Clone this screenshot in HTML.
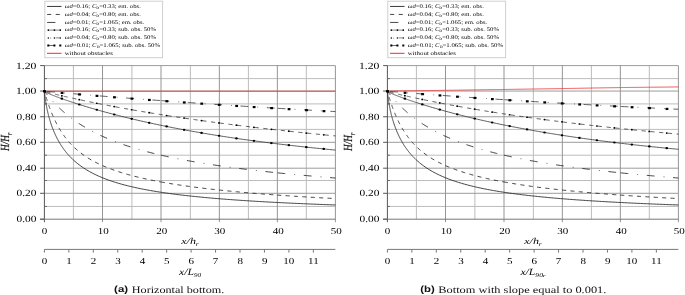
<!DOCTYPE html>
<html><head><meta charset="utf-8"><style>
html,body{margin:0;padding:0;background:#fff;width:685px;height:295px;overflow:hidden}
svg{display:block}
svg{will-change:transform}
text{text-rendering:geometricPrecision}
text.gp{text-rendering:geometricPrecision}
</style></head><body>
<svg width="685" height="295" viewBox="0 0 685 295">
<rect width="685" height="295" fill="#fff"/>
<line x1="44.40" y1="206.45" x2="335.40" y2="206.45" stroke="#bdbdbd" stroke-width="1"/>
<line x1="44.40" y1="180.50" x2="335.40" y2="180.50" stroke="#bdbdbd" stroke-width="1"/>
<line x1="44.40" y1="155.20" x2="335.40" y2="155.20" stroke="#bdbdbd" stroke-width="1"/>
<line x1="44.40" y1="129.40" x2="335.40" y2="129.40" stroke="#bdbdbd" stroke-width="1"/>
<line x1="44.40" y1="103.90" x2="335.40" y2="103.90" stroke="#bdbdbd" stroke-width="1"/>
<line x1="44.40" y1="78.60" x2="335.40" y2="78.60" stroke="#bdbdbd" stroke-width="1"/>
<line x1="73.40" y1="65.60" x2="73.40" y2="219.20" stroke="#bcbcbc" stroke-width="1"/>
<line x1="131.90" y1="65.60" x2="131.90" y2="219.20" stroke="#bcbcbc" stroke-width="1"/>
<line x1="190.35" y1="65.60" x2="190.35" y2="219.20" stroke="#bcbcbc" stroke-width="1"/>
<line x1="248.40" y1="65.60" x2="248.40" y2="219.20" stroke="#bcbcbc" stroke-width="1"/>
<line x1="306.30" y1="65.60" x2="306.30" y2="219.20" stroke="#bcbcbc" stroke-width="1"/>
<line x1="44.40" y1="193.30" x2="335.40" y2="193.30" stroke="#9c9c9c" stroke-width="1"/>
<line x1="44.40" y1="168.20" x2="335.40" y2="168.20" stroke="#9c9c9c" stroke-width="1"/>
<line x1="44.40" y1="142.30" x2="335.40" y2="142.30" stroke="#9c9c9c" stroke-width="1"/>
<line x1="44.40" y1="116.75" x2="335.40" y2="116.75" stroke="#9c9c9c" stroke-width="1"/>
<line x1="44.40" y1="91.05" x2="335.40" y2="91.05" stroke="#9c9c9c" stroke-width="1"/>
<line x1="44.40" y1="65.60" x2="335.40" y2="65.60" stroke="#9c9c9c" stroke-width="1"/>
<line x1="102.50" y1="65.60" x2="102.50" y2="222.20" stroke="#959595" stroke-width="1"/>
<line x1="161.00" y1="65.60" x2="161.00" y2="222.20" stroke="#959595" stroke-width="1"/>
<line x1="219.35" y1="65.60" x2="219.35" y2="222.20" stroke="#959595" stroke-width="1"/>
<line x1="277.35" y1="65.60" x2="277.35" y2="222.20" stroke="#959595" stroke-width="1"/>
<line x1="335.40" y1="65.60" x2="335.40" y2="222.20" stroke="#959595" stroke-width="1"/>
<line x1="44.40" y1="65.60" x2="44.40" y2="222.20" stroke="#555" stroke-width="1"/>
<line x1="40.10" y1="219.20" x2="335.40" y2="219.20" stroke="#777" stroke-width="1"/>
<line x1="40.10" y1="219.20" x2="44.40" y2="219.20" stroke="#555" stroke-width="1"/>
<line x1="44.40" y1="206.45" x2="46.90" y2="206.45" stroke="#666" stroke-width="1"/>
<line x1="40.10" y1="193.30" x2="44.40" y2="193.30" stroke="#555" stroke-width="1"/>
<line x1="44.40" y1="180.50" x2="46.90" y2="180.50" stroke="#666" stroke-width="1"/>
<line x1="40.10" y1="168.20" x2="44.40" y2="168.20" stroke="#555" stroke-width="1"/>
<line x1="44.40" y1="155.20" x2="46.90" y2="155.20" stroke="#666" stroke-width="1"/>
<line x1="40.10" y1="142.30" x2="44.40" y2="142.30" stroke="#555" stroke-width="1"/>
<line x1="44.40" y1="129.40" x2="46.90" y2="129.40" stroke="#666" stroke-width="1"/>
<line x1="40.10" y1="116.75" x2="44.40" y2="116.75" stroke="#555" stroke-width="1"/>
<line x1="44.40" y1="103.90" x2="46.90" y2="103.90" stroke="#666" stroke-width="1"/>
<line x1="40.10" y1="91.05" x2="44.40" y2="91.05" stroke="#555" stroke-width="1"/>
<line x1="44.40" y1="78.60" x2="46.90" y2="78.60" stroke="#666" stroke-width="1"/>
<line x1="40.10" y1="65.60" x2="44.40" y2="65.60" stroke="#555" stroke-width="1"/>
<text transform="translate(16.55,222.15) scale(1.197,1)" style="font-family:'Liberation Serif', serif;font-size:9.50px;" fill="#000">0.00</text>
<text transform="translate(16.55,196.25) scale(1.197,1)" style="font-family:'Liberation Serif', serif;font-size:9.50px;" fill="#000">0.20</text>
<text transform="translate(16.55,171.15) scale(1.197,1)" style="font-family:'Liberation Serif', serif;font-size:9.50px;" fill="#000">0.40</text>
<text transform="translate(16.55,145.25) scale(1.197,1)" style="font-family:'Liberation Serif', serif;font-size:9.50px;" fill="#000">0.60</text>
<text transform="translate(16.55,119.70) scale(1.197,1)" style="font-family:'Liberation Serif', serif;font-size:9.50px;" fill="#000">0.80</text>
<text transform="translate(15.95,94.00) scale(1.233,1)" style="font-family:'Liberation Serif', serif;font-size:9.50px;" fill="#000">1.00</text>
<text transform="translate(15.95,68.55) scale(1.233,1)" style="font-family:'Liberation Serif', serif;font-size:9.50px;" fill="#000">1.20</text>
<text transform="translate(41.74,233.90) scale(1.200,1)" style="font-family:'Liberation Serif', serif;font-size:9.20px;" fill="#000">0</text>
<text transform="translate(97.70,233.90) scale(1.200,1)" style="font-family:'Liberation Serif', serif;font-size:9.20px;" fill="#000">10</text>
<text transform="translate(156.15,233.90) scale(1.200,1)" style="font-family:'Liberation Serif', serif;font-size:9.20px;" fill="#000">20</text>
<text transform="translate(214.32,233.90) scale(1.200,1)" style="font-family:'Liberation Serif', serif;font-size:9.20px;" fill="#000">30</text>
<text transform="translate(272.69,233.90) scale(1.200,1)" style="font-family:'Liberation Serif', serif;font-size:9.20px;" fill="#000">40</text>
<text transform="translate(330.67,233.90) scale(1.200,1)" style="font-family:'Liberation Serif', serif;font-size:9.20px;" fill="#000">50</text>
<line x1="44.40" y1="249.40" x2="335.40" y2="249.40" stroke="#777" stroke-width="1"/>
<line x1="44.40" y1="249.40" x2="44.40" y2="252.60" stroke="#777" stroke-width="1"/>
<text transform="translate(41.74,263.85) scale(1.200,1)" style="font-family:'Liberation Serif', serif;font-size:9.20px;" fill="#000">0</text>
<line x1="68.85" y1="249.40" x2="68.85" y2="252.60" stroke="#777" stroke-width="1"/>
<text transform="translate(66.15,263.85) scale(1.200,1)" style="font-family:'Liberation Serif', serif;font-size:9.20px;" fill="#000">1</text>
<line x1="93.30" y1="249.40" x2="93.30" y2="252.60" stroke="#777" stroke-width="1"/>
<text transform="translate(90.82,263.85) scale(1.200,1)" style="font-family:'Liberation Serif', serif;font-size:9.20px;" fill="#000">2</text>
<line x1="117.75" y1="249.40" x2="117.75" y2="252.60" stroke="#777" stroke-width="1"/>
<text transform="translate(115.13,263.85) scale(1.200,1)" style="font-family:'Liberation Serif', serif;font-size:9.20px;" fill="#000">3</text>
<line x1="142.20" y1="249.40" x2="142.20" y2="252.60" stroke="#777" stroke-width="1"/>
<text transform="translate(139.64,263.85) scale(1.200,1)" style="font-family:'Liberation Serif', serif;font-size:9.20px;" fill="#000">4</text>
<line x1="166.65" y1="249.40" x2="166.65" y2="252.60" stroke="#777" stroke-width="1"/>
<text transform="translate(163.98,263.85) scale(1.200,1)" style="font-family:'Liberation Serif', serif;font-size:9.20px;" fill="#000">5</text>
<line x1="191.10" y1="249.40" x2="191.10" y2="252.60" stroke="#777" stroke-width="1"/>
<text transform="translate(188.46,263.85) scale(1.200,1)" style="font-family:'Liberation Serif', serif;font-size:9.20px;" fill="#000">6</text>
<line x1="215.55" y1="249.40" x2="215.55" y2="252.60" stroke="#777" stroke-width="1"/>
<text transform="translate(212.77,263.85) scale(1.200,1)" style="font-family:'Liberation Serif', serif;font-size:9.20px;" fill="#000">7</text>
<line x1="240.00" y1="249.40" x2="240.00" y2="252.60" stroke="#777" stroke-width="1"/>
<text transform="translate(237.44,263.85) scale(1.200,1)" style="font-family:'Liberation Serif', serif;font-size:9.20px;" fill="#000">8</text>
<line x1="264.45" y1="249.40" x2="264.45" y2="252.60" stroke="#777" stroke-width="1"/>
<text transform="translate(261.95,263.85) scale(1.200,1)" style="font-family:'Liberation Serif', serif;font-size:9.20px;" fill="#000">9</text>
<line x1="288.90" y1="249.40" x2="288.90" y2="252.60" stroke="#777" stroke-width="1"/>
<text transform="translate(283.30,263.85) scale(1.200,1)" style="font-family:'Liberation Serif', serif;font-size:9.20px;" fill="#000">10</text>
<line x1="313.35" y1="249.40" x2="313.35" y2="252.60" stroke="#777" stroke-width="1"/>
<text transform="translate(308.09,263.85) scale(1.200,1)" style="font-family:'Liberation Serif', serif;font-size:9.20px;" fill="#000">11</text>
<path d="M44.40,91.20 L335.40,91.20" fill="none" stroke="#e83030" stroke-width="0.85"/>
<path d="M44.40,91.20 L44.46,91.79 L44.52,92.36 L44.57,92.91 L44.63,93.45 L44.69,93.98 L44.75,94.49 L44.81,95.00 L44.87,95.49 L44.92,95.97 L44.98,96.44 L45.04,96.90 L45.10,97.35 L45.16,97.79 L45.21,98.23 L45.27,98.65 L45.33,99.07 L45.39,99.48 L45.45,99.89 L45.51,100.28 L45.56,100.68 L45.62,101.06 L45.68,101.44 L45.74,101.81 L45.80,102.18 L45.85,102.54 L45.91,102.89 L45.97,103.25 L46.03,103.59 L46.09,103.93 L46.15,104.27 L46.20,104.60 L46.26,104.93 L46.32,105.26 L46.38,105.58 L46.44,105.89 L46.50,106.21 L46.55,106.51 L46.61,106.82 L46.67,107.12 L46.73,107.42 L46.79,107.72 L46.84,108.01 L46.90,108.30 L46.96,108.59 L47.02,108.87 L47.08,109.15 L47.14,109.43 L47.19,109.70 L47.25,109.97 L47.31,110.24 L47.37,110.51 L47.43,110.78 L47.48,111.04 L47.54,111.30 L47.60,111.56 L47.66,111.81 L47.72,112.07 L47.78,112.32 L47.83,112.57 L47.89,112.81 L47.95,113.06 L48.01,113.30 L48.07,113.54 L48.12,113.78 L48.18,114.02 L48.24,114.25 L48.30,114.49 L48.36,114.72 L48.42,114.95 L48.47,115.18 L48.53,115.41 L48.59,115.63 L48.65,115.85 L48.71,116.08 L48.77,116.30 L48.82,116.51 L48.88,116.73 L48.94,116.95 L49.00,117.16 L49.06,117.38 L49.11,117.59 L49.17,117.80 L49.23,118.01 L49.29,118.21 L49.35,118.42 L49.41,118.62 L49.46,118.83 L49.52,119.03 L49.58,119.23 L49.64,119.43 L49.70,119.63 L49.75,119.82 L49.81,120.02 L49.87,120.22 L49.93,120.41 L49.99,120.60 L50.05,120.79 L50.10,120.98 L50.16,121.17 L50.22,121.36 L50.51,122.28 L50.80,123.18 L51.09,124.06 L51.38,124.91 L51.67,125.74 L51.97,126.56 L52.26,127.35 L52.55,128.12 L52.84,128.88 L53.13,129.62 L53.42,130.34 L53.71,131.05 L54.00,131.75 L54.29,132.43 L54.59,133.10 L54.88,133.75 L55.17,134.39 L55.46,135.02 L55.75,135.64 L56.04,136.24 L56.33,136.84 L56.62,137.42 L56.91,138.00 L57.20,138.56 L57.50,139.12 L57.79,139.66 L58.08,140.20 L58.37,140.73 L58.66,141.25 L58.95,141.76 L59.24,142.26 L59.53,142.75 L59.82,143.24 L60.11,143.72 L60.41,144.19 L60.70,144.66 L60.99,145.12 L61.28,145.57 L61.57,146.02 L61.86,146.46 L62.15,146.89 L62.44,147.31 L62.73,147.74 L63.02,148.15 L63.32,148.56 L63.61,148.96 L63.90,149.36 L64.19,149.75 L64.48,150.14 L64.77,150.53 L65.06,150.90 L65.35,151.28 L65.64,151.64 L65.93,152.01 L66.23,152.37 L66.52,152.72 L66.81,153.07 L67.10,153.42 L67.39,153.76 L67.68,154.10 L67.97,154.43 L68.26,154.76 L68.55,155.08 L68.84,155.41 L69.14,155.72 L69.43,156.04 L69.72,156.35 L70.01,156.66 L70.30,156.96 L70.59,157.26 L70.88,157.56 L71.17,157.85 L71.46,158.14 L71.75,158.43 L72.05,158.71 L72.34,158.99 L72.63,159.27 L72.92,159.55 L73.21,159.82 L73.50,160.09 L74.95,161.39 L76.41,162.64 L77.87,163.82 L79.32,164.94 L80.78,166.02 L82.23,167.04 L83.69,168.02 L85.14,168.96 L86.59,169.87 L88.05,170.73 L89.50,171.56 L90.96,172.36 L92.41,173.13 L93.87,173.87 L95.33,174.59 L96.78,175.28 L98.23,175.94 L99.69,176.58 L101.15,177.21 L102.60,177.81 L104.06,178.39 L105.51,178.95 L106.97,179.50 L108.42,180.03 L109.88,180.54 L111.33,181.04 L112.78,181.52 L114.24,181.99 L115.69,182.45 L117.15,182.89 L118.60,183.32 L120.06,183.74 L121.52,184.15 L122.97,184.55 L124.43,184.94 L125.88,185.32 L127.34,185.69 L128.79,186.05 L130.25,186.40 L131.70,186.75 L133.16,187.08 L134.61,187.41 L136.06,187.73 L137.52,188.04 L138.97,188.35 L140.43,188.65 L141.88,188.94 L143.34,189.22 L144.80,189.50 L146.25,189.78 L147.71,190.05 L149.16,190.31 L150.62,190.57 L152.07,190.82 L153.53,191.07 L154.98,191.31 L156.44,191.55 L157.89,191.78 L159.34,192.01 L160.80,192.23 L162.25,192.45 L163.71,192.67 L165.16,192.88 L166.62,193.09 L168.08,193.30 L169.53,193.50 L170.99,193.69 L172.44,193.89 L173.90,194.08 L175.35,194.27 L176.81,194.45 L178.26,194.63 L179.72,194.81 L181.17,194.99 L182.62,195.16 L184.08,195.33 L185.54,195.50 L186.99,195.66 L188.45,195.82 L189.90,195.98 L191.36,196.14 L192.81,196.29 L194.27,196.44 L195.72,196.59 L197.18,196.74 L198.63,196.89 L200.09,197.03 L201.54,197.17 L203.00,197.31 L204.45,197.45 L205.91,197.58 L207.36,197.72 L208.82,197.85 L210.27,197.98 L211.73,198.11 L213.18,198.23 L214.64,198.36 L216.09,198.48 L217.55,198.60 L219.00,198.72 L220.46,198.84 L221.91,198.96 L223.37,199.07 L224.82,199.18 L226.28,199.30 L227.73,199.41 L229.19,199.52 L230.64,199.62 L232.10,199.73 L233.55,199.84 L235.01,199.94 L236.46,200.04 L237.92,200.14 L239.37,200.24 L240.83,200.34 L242.28,200.44 L243.74,200.54 L245.19,200.63 L246.65,200.73 L248.10,200.82 L249.56,200.91 L251.01,201.00 L252.47,201.09 L253.92,201.18 L255.38,201.27 L256.83,201.36 L258.29,201.45 L259.74,201.53 L261.19,201.62 L262.65,201.70 L264.11,201.78 L265.56,201.86 L267.01,201.94 L268.47,202.02 L269.93,202.10 L271.38,202.18 L272.83,202.26 L274.29,202.34 L275.75,202.41 L277.20,202.49 L278.66,202.56 L280.11,202.63 L281.56,202.71 L283.02,202.78 L284.48,202.85 L285.93,202.92 L287.38,202.99 L288.84,203.06 L290.30,203.13 L291.75,203.20 L293.20,203.27 L294.66,203.33 L296.12,203.40 L297.57,203.46 L299.02,203.53 L300.48,203.59 L301.94,203.66 L303.39,203.72 L304.84,203.78 L306.30,203.84 L307.75,203.91 L309.21,203.97 L310.66,204.03 L312.12,204.09 L313.57,204.15 L315.03,204.20 L316.49,204.26 L317.94,204.32 L319.39,204.38 L320.85,204.43 L322.31,204.49 L323.76,204.55 L325.21,204.60 L326.67,204.66 L328.12,204.71 L329.58,204.76 L331.03,204.82 L332.49,204.87 L333.94,204.92 L335.40,204.97" fill="none" stroke="#222" stroke-width="0.85"/>
<path d="M44.40,91.20 L44.46,91.41 L44.52,91.62 L44.57,91.84 L44.63,92.05 L44.69,92.26 L44.75,92.46 L44.81,92.67 L44.87,92.88 L44.92,93.09 L44.98,93.29 L45.04,93.50 L45.10,93.70 L45.16,93.91 L45.21,94.11 L45.27,94.31 L45.33,94.51 L45.39,94.72 L45.45,94.92 L45.51,95.12 L45.56,95.32 L45.62,95.51 L45.68,95.71 L45.74,95.91 L45.80,96.11 L45.85,96.30 L45.91,96.50 L45.97,96.69 L46.03,96.88 L46.09,97.08 L46.15,97.27 L46.20,97.46 L46.26,97.65 L46.32,97.84 L46.38,98.03 L46.44,98.22 L46.50,98.41 L46.55,98.60 L46.61,98.79 L46.67,98.98 L46.73,99.16 L46.79,99.35 L46.84,99.53 L46.90,99.72 L46.96,99.90 L47.02,100.08 L47.08,100.27 L47.14,100.45 L47.19,100.63 L47.25,100.81 L47.31,100.99 L47.37,101.17 L47.43,101.35 L47.48,101.53 L47.54,101.71 L47.60,101.88 L47.66,102.06 L47.72,102.24 L47.78,102.41 L47.83,102.59 L47.89,102.76 L47.95,102.94 L48.01,103.11 L48.07,103.28 L48.12,103.45 L48.18,103.63 L48.24,103.80 L48.30,103.97 L48.36,104.14 L48.42,104.31 L48.47,104.48 L48.53,104.64 L48.59,104.81 L48.65,104.98 L48.71,105.15 L48.77,105.31 L48.82,105.48 L48.88,105.64 L48.94,105.81 L49.00,105.97 L49.06,106.14 L49.11,106.30 L49.17,106.46 L49.23,106.62 L49.29,106.79 L49.35,106.95 L49.41,107.11 L49.46,107.27 L49.52,107.43 L49.58,107.59 L49.64,107.75 L49.70,107.90 L49.75,108.06 L49.81,108.22 L49.87,108.37 L49.93,108.53 L49.99,108.69 L50.05,108.84 L50.10,109.00 L50.16,109.15 L50.22,109.30 L50.51,110.07 L50.80,110.82 L51.09,111.55 L51.38,112.28 L51.67,113.00 L51.97,113.70 L52.26,114.40 L52.55,115.09 L52.84,115.76 L53.13,116.43 L53.42,117.08 L53.71,117.73 L54.00,118.36 L54.29,118.99 L54.59,119.61 L54.88,120.22 L55.17,120.82 L55.46,121.41 L55.75,122.00 L56.04,122.58 L56.33,123.14 L56.62,123.71 L56.91,124.26 L57.20,124.80 L57.50,125.34 L57.79,125.87 L58.08,126.40 L58.37,126.92 L58.66,127.43 L58.95,127.93 L59.24,128.43 L59.53,128.92 L59.82,129.40 L60.11,129.88 L60.41,130.35 L60.70,130.82 L60.99,131.28 L61.28,131.73 L61.57,132.18 L61.86,132.62 L62.15,133.06 L62.44,133.49 L62.73,133.92 L63.02,134.34 L63.32,134.76 L63.61,135.17 L63.90,135.58 L64.19,135.98 L64.48,136.38 L64.77,136.77 L65.06,137.16 L65.35,137.54 L65.64,137.92 L65.93,138.30 L66.23,138.67 L66.52,139.03 L66.81,139.40 L67.10,139.75 L67.39,140.11 L67.68,140.46 L67.97,140.80 L68.26,141.15 L68.55,141.48 L68.84,141.82 L69.14,142.15 L69.43,142.48 L69.72,142.80 L70.01,143.12 L70.30,143.44 L70.59,143.76 L70.88,144.07 L71.17,144.37 L71.46,144.68 L71.75,144.98 L72.05,145.28 L72.34,145.57 L72.63,145.86 L72.92,146.15 L73.21,146.44 L73.50,146.72 L74.95,148.10 L76.41,149.41 L77.87,150.66 L79.32,151.85 L80.78,152.99 L82.23,154.08 L83.69,155.13 L85.14,156.13 L86.59,157.09 L88.05,158.02 L89.50,158.91 L90.96,159.76 L92.41,160.59 L93.87,161.39 L95.33,162.16 L96.78,162.90 L98.23,163.62 L99.69,164.31 L101.15,164.99 L102.60,165.64 L104.06,166.27 L105.51,166.88 L106.97,167.48 L108.42,168.06 L109.88,168.62 L111.33,169.17 L112.78,169.70 L114.24,170.22 L115.69,170.73 L117.15,171.22 L118.60,171.70 L120.06,172.17 L121.52,172.62 L122.97,173.07 L124.43,173.50 L125.88,173.93 L127.34,174.35 L128.79,174.75 L130.25,175.15 L131.70,175.54 L133.16,175.92 L134.61,176.30 L136.06,176.66 L137.52,177.02 L138.97,177.37 L140.43,177.72 L141.88,178.06 L143.34,178.39 L144.80,178.71 L146.25,179.03 L147.71,179.35 L149.16,179.65 L150.62,179.96 L152.07,180.25 L153.53,180.54 L154.98,180.83 L156.44,181.11 L157.89,181.39 L159.34,181.66 L160.80,181.93" fill="none" stroke="#222" stroke-width="0.85" stroke-dasharray="4.1 4.3" stroke-dashoffset="2.40"/>
<path d="M160.80,181.93 L160.80,181.93 L162.25,182.19 L163.71,182.45 L165.16,182.71 L166.62,182.96 L168.08,183.21 L169.53,183.45 L170.99,183.69 L172.44,183.93 L173.90,184.16 L175.35,184.39 L176.81,184.62 L178.26,184.84 L179.72,185.06 L181.17,185.28 L182.62,185.49 L184.08,185.70 L185.54,185.91 L186.99,186.11 L188.45,186.32 L189.90,186.52 L191.36,186.71 L192.81,186.91 L194.27,187.10 L195.72,187.29 L197.18,187.48 L198.63,187.66 L200.09,187.84 L201.54,188.02 L203.00,188.20 L204.45,188.37 L205.91,188.55 L207.36,188.72 L208.82,188.89 L210.27,189.05 L211.73,189.22 L213.18,189.38 L214.64,189.54 L216.09,189.70 L217.55,189.86 L219.00,190.02 L220.46,190.17 L221.91,190.32 L223.37,190.47 L224.82,190.62 L226.28,190.77 L227.73,190.91 L229.19,191.06 L230.64,191.20 L232.10,191.34 L233.55,191.48 L235.01,191.62 L236.46,191.76 L237.92,191.89 L239.37,192.02 L240.83,192.16 L242.28,192.29 L243.74,192.42 L245.19,192.54 L246.65,192.67 L248.10,192.80 L249.56,192.92 L251.01,193.04 L252.47,193.17 L253.92,193.29 L255.38,193.41 L256.83,193.52 L258.29,193.64 L259.74,193.76 L261.19,193.87 L262.65,193.99 L264.11,194.10 L265.56,194.21 L267.01,194.32 L268.47,194.43 L269.93,194.54 L271.38,194.65 L272.83,194.75 L274.29,194.86 L275.75,194.96 L277.20,195.07" fill="none" stroke="#222" stroke-width="0.85" stroke-dasharray="4.1 4.3" stroke-dashoffset="0.00"/>
<path d="M277.20,195.07 L277.20,195.07 L278.66,195.17 L280.11,195.27 L281.56,195.37 L283.02,195.47 L284.48,195.57 L285.93,195.67 L287.38,195.77 L288.84,195.86 L290.30,195.96 L291.75,196.06 L293.20,196.15 L294.66,196.24 L296.12,196.34 L297.57,196.43 L299.02,196.52 L300.48,196.61 L301.94,196.70 L303.39,196.79 L304.84,196.87 L306.30,196.96 L307.75,197.05 L309.21,197.13 L310.66,197.22 L312.12,197.30 L313.57,197.39 L315.03,197.47 L316.49,197.55 L317.94,197.64 L319.39,197.72 L320.85,197.80 L322.31,197.88 L323.76,197.96 L325.21,198.03 L326.67,198.11 L328.12,198.19 L329.58,198.27 L331.03,198.34 L332.49,198.42 L333.94,198.49 L335.40,198.57" fill="none" stroke="#222" stroke-width="0.85" stroke-dasharray="4.1 4.3" stroke-dashoffset="0.00"/>
<path d="M44.40,91.20 L44.46,91.28 L44.52,91.35 L44.57,91.43 L44.63,91.51 L44.69,91.58 L44.75,91.66 L44.81,91.74 L44.87,91.81 L44.92,91.89 L44.98,91.97 L45.04,92.04 L45.10,92.12 L45.16,92.19 L45.21,92.27 L45.27,92.35 L45.33,92.42 L45.39,92.50 L45.45,92.57 L45.51,92.65 L45.56,92.72 L45.62,92.80 L45.68,92.87 L45.74,92.95 L45.80,93.02 L45.85,93.10 L45.91,93.17 L45.97,93.25 L46.03,93.32 L46.09,93.39 L46.15,93.47 L46.20,93.54 L46.26,93.62 L46.32,93.69 L46.38,93.76 L46.44,93.84 L46.50,93.91 L46.55,93.98 L46.61,94.06 L46.67,94.13 L46.73,94.20 L46.79,94.28 L46.84,94.35 L46.90,94.42 L46.96,94.50 L47.02,94.57 L47.08,94.64 L47.14,94.71 L47.19,94.79 L47.25,94.86 L47.31,94.93 L47.37,95.00 L47.43,95.07 L47.48,95.15 L47.54,95.22 L47.60,95.29 L47.66,95.36 L47.72,95.43 L47.78,95.50 L47.83,95.57 L47.89,95.65 L47.95,95.72 L48.01,95.79 L48.07,95.86 L48.12,95.93 L48.18,96.00 L48.24,96.07 L48.30,96.14 L48.36,96.21 L48.42,96.28 L48.47,96.35 L48.53,96.42 L48.59,96.49 L48.65,96.56 L48.71,96.63 L48.77,96.70 L48.82,96.77 L48.88,96.84 L48.94,96.91 L49.00,96.98 L49.06,97.05 L49.11,97.12 L49.17,97.19 L49.23,97.26 L49.29,97.32 L49.35,97.39 L49.41,97.46 L49.46,97.53 L49.52,97.60 L49.58,97.67 L49.64,97.74 L49.70,97.80 L49.75,97.87 L49.81,97.94 L49.87,98.01 L49.93,98.08 L49.99,98.14 L50.05,98.21 L50.10,98.28 L50.16,98.35 L50.22,98.41 L50.51,98.75 L50.80,99.08 L51.09,99.42 L51.38,99.75 L51.67,100.07 L51.97,100.40 L52.26,100.72 L52.55,101.04 L52.84,101.36 L53.13,101.68 L53.42,101.99 L53.71,102.30 L54.00,102.62 L54.29,102.92 L54.59,103.23 L54.88,103.54 L55.17,103.84 L55.46,104.14 L55.75,104.44 L56.04,104.74 L56.33,105.03 L56.62,105.33 L56.91,105.62 L57.20,105.91 L57.50,106.20 L57.79,106.48 L58.08,106.77 L58.37,107.05 L58.66,107.33 L58.95,107.61 L59.24,107.89 L59.53,108.17 L59.82,108.44 L60.11,108.72 L60.41,108.99 L60.70,109.26 L60.99,109.53 L61.28,109.79 L61.57,110.06 L61.86,110.32 L62.15,110.58 L62.44,110.84 L62.73,111.10 L63.02,111.36 L63.32,111.62 L63.61,111.87 L63.90,112.12 L64.19,112.37 L64.48,112.62 L64.77,112.87 L65.06,113.12 L65.35,113.37 L65.64,113.61 L65.93,113.85 L66.23,114.10 L66.52,114.34 L66.81,114.58 L67.10,114.81 L67.39,115.05 L67.68,115.28 L67.97,115.52 L68.26,115.75 L68.55,115.98 L68.84,116.21 L69.14,116.44 L69.43,116.67 L69.72,116.89 L70.01,117.12 L70.30,117.34 L70.59,117.57 L70.88,117.79 L71.17,118.01 L71.46,118.23 L71.75,118.44 L72.05,118.66 L72.34,118.88 L72.63,119.09 L72.92,119.30 L73.21,119.52 L73.50,119.73 L74.95,120.76 L76.41,121.78 L77.87,122.76 L79.32,123.72 L80.78,124.66 L82.23,125.57 L83.69,126.47 L85.14,127.34 L86.59,128.19 L88.05,129.02 L89.50,129.83 L90.96,130.62 L92.41,131.40 L93.87,132.16 L95.33,132.90 L96.78,133.62 L98.23,134.33 L99.69,135.03 L101.15,135.71 L102.60,136.38 L104.06,137.03 L105.51,137.67 L106.97,138.29 L108.42,138.91 L109.88,139.51 L111.33,140.10 L112.78,140.68 L114.24,141.25 L115.69,141.81 L117.15,142.35 L118.60,142.89 L120.06,143.42 L121.52,143.93 L122.97,144.44 L124.43,144.94 L125.88,145.43 L127.34,145.92 L128.79,146.39 L130.25,146.86 L131.70,147.31 L133.16,147.77 L134.61,148.21 L136.06,148.64 L137.52,149.07 L138.97,149.50 L140.43,149.91 L141.88,150.32 L143.34,150.72 L144.80,151.12 L146.25,151.51 L147.71,151.90 L149.16,152.27 L150.62,152.65 L152.07,153.02 L153.53,153.38 L154.98,153.74 L156.44,154.09 L157.89,154.44 L159.34,154.78 L160.80,155.12" fill="none" stroke="#222" stroke-width="0.85" stroke-dasharray="7.3 8.6 0.8 8.15" stroke-dashoffset="2.45"/>
<path d="M160.80,155.12 L160.80,155.12 L162.25,155.45 L163.71,155.78 L165.16,156.10 L166.62,156.42 L168.08,156.74 L169.53,157.05 L170.99,157.36 L172.44,157.66 L173.90,157.96 L175.35,158.26 L176.81,158.55 L178.26,158.84 L179.72,159.12 L181.17,159.41 L182.62,159.68 L184.08,159.96 L185.54,160.23 L186.99,160.50 L188.45,160.76 L189.90,161.03 L191.36,161.29 L192.81,161.54 L194.27,161.80 L195.72,162.05 L197.18,162.29 L198.63,162.54 L200.09,162.78 L201.54,163.02 L203.00,163.26 L204.45,163.49 L205.91,163.72 L207.36,163.95 L208.82,164.18 L210.27,164.41 L211.73,164.63 L213.18,164.85 L214.64,165.07 L216.09,165.28 L217.55,165.50 L219.00,165.71 L220.46,165.92 L221.91,166.13 L223.37,166.33 L224.82,166.54 L226.28,166.74 L227.73,166.94 L229.19,167.14 L230.64,167.33 L232.10,167.53 L233.55,167.72 L235.01,167.91 L236.46,168.10 L237.92,168.29 L239.37,168.47 L240.83,168.66 L242.28,168.84 L243.74,169.02 L245.19,169.20 L246.65,169.38 L248.10,169.55 L249.56,169.73 L251.01,169.90 L252.47,170.08 L253.92,170.25 L255.38,170.42 L256.83,170.58 L258.29,170.75 L259.74,170.91 L261.19,171.08 L262.65,171.24 L264.11,171.40 L265.56,171.56 L267.01,171.72 L268.47,171.88 L269.93,172.03 L271.38,172.19 L272.83,172.34 L274.29,172.50 L275.75,172.65 L277.20,172.80" fill="none" stroke="#222" stroke-width="0.85" stroke-dasharray="7.8 9.1 0.8 8.7" stroke-dashoffset="26.10"/>
<path d="M277.20,172.80 L277.20,172.80 L278.66,172.95 L280.11,173.10 L281.56,173.24 L283.02,173.39 L284.48,173.53 L285.93,173.68 L287.38,173.82 L288.84,173.96 L290.30,174.10 L291.75,174.25 L293.20,174.38 L294.66,174.52 L296.12,174.66 L297.57,174.80 L299.02,174.93 L300.48,175.07 L301.94,175.20 L303.39,175.33 L304.84,175.46 L306.30,175.59 L307.75,175.72 L309.21,175.85 L310.66,175.98 L312.12,176.11 L313.57,176.24 L315.03,176.36 L316.49,176.49 L317.94,176.61 L319.39,176.74 L320.85,176.86 L322.31,176.98 L323.76,177.10 L325.21,177.22 L326.67,177.34 L328.12,177.46 L329.58,177.58 L331.03,177.70 L332.49,177.82 L333.94,177.93 L335.40,178.05" fill="none" stroke="#222" stroke-width="0.85" stroke-dasharray="7.8 9.1 0.8 8.7" stroke-dashoffset="26.10"/>
<path d="M44.40,91.20 L44.46,91.25 L44.52,91.29 L44.57,91.34 L44.63,91.38 L44.69,91.42 L44.75,91.46 L44.81,91.51 L44.87,91.55 L44.92,91.58 L44.98,91.62 L45.04,91.66 L45.10,91.70 L45.16,91.74 L45.21,91.77 L45.27,91.81 L45.33,91.85 L45.39,91.88 L45.45,91.92 L45.51,91.95 L45.56,91.99 L45.62,92.02 L45.68,92.05 L45.74,92.09 L45.80,92.12 L45.85,92.15 L45.91,92.19 L45.97,92.22 L46.03,92.25 L46.09,92.28 L46.15,92.31 L46.20,92.35 L46.26,92.38 L46.32,92.41 L46.38,92.44 L46.44,92.47 L46.50,92.50 L46.55,92.53 L46.61,92.56 L46.67,92.59 L46.73,92.62 L46.79,92.65 L46.84,92.68 L46.90,92.71 L46.96,92.74 L47.02,92.77 L47.08,92.79 L47.14,92.82 L47.19,92.85 L47.25,92.88 L47.31,92.91 L47.37,92.94 L47.43,92.97 L47.48,92.99 L47.54,93.02 L47.60,93.05 L47.66,93.08 L47.72,93.10 L47.78,93.13 L47.83,93.16 L47.89,93.19 L47.95,93.21 L48.01,93.24 L48.07,93.27 L48.12,93.30 L48.18,93.32 L48.24,93.35 L48.30,93.38 L48.36,93.40 L48.42,93.43 L48.47,93.46 L48.53,93.48 L48.59,93.51 L48.65,93.53 L48.71,93.56 L48.77,93.59 L48.82,93.61 L48.88,93.64 L48.94,93.66 L49.00,93.69 L49.06,93.72 L49.11,93.74 L49.17,93.77 L49.23,93.79 L49.29,93.82 L49.35,93.85 L49.41,93.87 L49.46,93.90 L49.52,93.92 L49.58,93.95 L49.64,93.97 L49.70,94.00 L49.75,94.02 L49.81,94.05 L49.87,94.07 L49.93,94.10 L49.99,94.12 L50.05,94.15 L50.10,94.17 L50.16,94.20 L50.22,94.22 L50.51,94.35 L50.80,94.47 L51.09,94.59 L51.38,94.71 L51.67,94.83 L51.97,94.95 L52.26,95.07 L52.55,95.18 L52.84,95.30 L53.13,95.42 L53.42,95.53 L53.71,95.65 L54.00,95.76 L54.29,95.87 L54.59,95.99 L54.88,96.10 L55.17,96.21 L55.46,96.32 L55.75,96.44 L56.04,96.55 L56.33,96.66 L56.62,96.77 L56.91,96.88 L57.20,96.98 L57.50,97.09 L57.79,97.20 L58.08,97.31 L58.37,97.42 L58.66,97.52 L58.95,97.63 L59.24,97.74 L59.53,97.84 L59.82,97.95 L60.11,98.06 L60.41,98.16 L60.70,98.27 L60.99,98.37 L61.28,98.48 L61.57,98.58 L61.86,98.68 L62.15,98.79 L62.44,98.89 L62.73,98.99 L63.02,99.10 L63.32,99.20 L63.61,99.30 L63.90,99.40 L64.19,99.51 L64.48,99.61 L64.77,99.71 L65.06,99.81 L65.35,99.91 L65.64,100.01 L65.93,100.11 L66.23,100.21 L66.52,100.31 L66.81,100.41 L67.10,100.51 L67.39,100.61 L67.68,100.71 L67.97,100.81 L68.26,100.91 L68.55,101.01 L68.84,101.10 L69.14,101.20 L69.43,101.30 L69.72,101.40 L70.01,101.49 L70.30,101.59 L70.59,101.69 L70.88,101.79 L71.17,101.88 L71.46,101.98 L71.75,102.08 L72.05,102.17 L72.34,102.27 L72.63,102.36 L72.92,102.46 L73.21,102.55 L73.50,102.65 L74.95,103.12 L76.41,103.59 L77.87,104.05 L79.32,104.51 L80.78,104.97 L82.23,105.42 L83.69,105.87 L85.14,106.31 L86.59,106.75 L88.05,107.19 L89.50,107.62 L90.96,108.05 L92.41,108.48 L93.87,108.90 L95.33,109.32 L96.78,109.74 L98.23,110.15 L99.69,110.56 L101.15,110.97 L102.60,111.37 L104.06,111.77 L105.51,112.17 L106.97,112.56 L108.42,112.95 L109.88,113.34 L111.33,113.72 L112.78,114.11 L114.24,114.48 L115.69,114.86 L117.15,115.23 L118.60,115.60 L120.06,115.97 L121.52,116.34 L122.97,116.70 L124.43,117.06 L125.88,117.42 L127.34,117.77 L128.79,118.12 L130.25,118.47 L131.70,118.82 L133.16,119.16 L134.61,119.51 L136.06,119.85 L137.52,120.18 L138.97,120.52 L140.43,120.85 L141.88,121.18 L143.34,121.51 L144.80,121.83 L146.25,122.16 L147.71,122.48 L149.16,122.79 L150.62,123.11 L152.07,123.42 L153.53,123.74 L154.98,124.04 L156.44,124.35 L157.89,124.66 L159.34,124.96 L160.80,125.26 L162.25,125.56 L163.71,125.86 L165.16,126.15 L166.62,126.44 L168.08,126.73 L169.53,127.02 L170.99,127.31 L172.44,127.59 L173.90,127.88 L175.35,128.16 L176.81,128.44 L178.26,128.71 L179.72,128.99 L181.17,129.26 L182.62,129.53 L184.08,129.80 L185.54,130.07 L186.99,130.33 L188.45,130.60 L189.90,130.86 L191.36,131.12 L192.81,131.38 L194.27,131.64 L195.72,131.89 L197.18,132.15 L198.63,132.40 L200.09,132.65 L201.54,132.90 L203.00,133.14 L204.45,133.39 L205.91,133.63 L207.36,133.87 L208.82,134.11 L210.27,134.35 L211.73,134.59 L213.18,134.82 L214.64,135.06 L216.09,135.29 L217.55,135.52 L219.00,135.75 L220.46,135.98 L221.91,136.21 L223.37,136.43 L224.82,136.65 L226.28,136.88 L227.73,137.10 L229.19,137.31 L230.64,137.53 L232.10,137.75 L233.55,137.96 L235.01,138.18 L236.46,138.39 L237.92,138.60 L239.37,138.81 L240.83,139.02 L242.28,139.22 L243.74,139.43 L245.19,139.63 L246.65,139.83 L248.10,140.04 L249.56,140.24 L251.01,140.43 L252.47,140.63 L253.92,140.83 L255.38,141.02 L256.83,141.22 L258.29,141.41 L259.74,141.60 L261.19,141.79 L262.65,141.98 L264.11,142.17 L265.56,142.35 L267.01,142.54 L268.47,142.72 L269.93,142.91 L271.38,143.09 L272.83,143.27 L274.29,143.45 L275.75,143.63 L277.20,143.80 L278.66,143.98 L280.11,144.15 L281.56,144.33 L283.02,144.50 L284.48,144.67 L285.93,144.84 L287.38,145.01 L288.84,145.18 L290.30,145.35 L291.75,145.52 L293.20,145.68 L294.66,145.85 L296.12,146.01 L297.57,146.17 L299.02,146.33 L300.48,146.49 L301.94,146.65 L303.39,146.81 L304.84,146.97 L306.30,147.13 L307.75,147.28 L309.21,147.44 L310.66,147.59 L312.12,147.74 L313.57,147.89 L315.03,148.05 L316.49,148.20 L317.94,148.34 L319.39,148.49 L320.85,148.64 L322.31,148.79 L323.76,148.93 L325.21,149.08 L326.67,149.22 L328.12,149.36 L329.58,149.50 L331.03,149.65 L332.49,149.79 L333.94,149.93 L335.40,150.06" fill="none" stroke="#333" stroke-width="0.8"/>
<ellipse cx="44.40" cy="91.20" rx="1.32" ry="1.09" fill="#000"/>
<ellipse cx="61.86" cy="98.68" rx="1.32" ry="1.09" fill="#000"/>
<ellipse cx="79.32" cy="104.51" rx="1.32" ry="1.09" fill="#000"/>
<ellipse cx="96.78" cy="109.74" rx="1.32" ry="1.09" fill="#000"/>
<ellipse cx="114.24" cy="114.48" rx="1.32" ry="1.09" fill="#000"/>
<ellipse cx="131.70" cy="118.82" rx="1.32" ry="1.09" fill="#000"/>
<ellipse cx="149.16" cy="122.79" rx="1.32" ry="1.09" fill="#000"/>
<ellipse cx="166.62" cy="126.44" rx="1.32" ry="1.09" fill="#000"/>
<ellipse cx="184.08" cy="129.80" rx="1.32" ry="1.09" fill="#000"/>
<ellipse cx="201.54" cy="132.90" rx="1.32" ry="1.09" fill="#000"/>
<ellipse cx="219.00" cy="135.75" rx="1.32" ry="1.09" fill="#000"/>
<ellipse cx="236.46" cy="138.39" rx="1.32" ry="1.09" fill="#000"/>
<ellipse cx="253.92" cy="140.83" rx="1.32" ry="1.09" fill="#000"/>
<ellipse cx="271.38" cy="143.09" rx="1.32" ry="1.09" fill="#000"/>
<ellipse cx="288.84" cy="145.18" rx="1.32" ry="1.09" fill="#000"/>
<ellipse cx="306.30" cy="147.13" rx="1.32" ry="1.09" fill="#000"/>
<ellipse cx="323.76" cy="148.93" rx="1.32" ry="1.09" fill="#000"/>
<path d="M44.40,91.20 L44.46,91.22 L44.52,91.24 L44.57,91.26 L44.63,91.28 L44.69,91.30 L44.75,91.32 L44.81,91.34 L44.87,91.36 L44.92,91.38 L44.98,91.40 L45.04,91.42 L45.10,91.44 L45.16,91.46 L45.21,91.47 L45.27,91.49 L45.33,91.51 L45.39,91.53 L45.45,91.55 L45.51,91.57 L45.56,91.59 L45.62,91.61 L45.68,91.63 L45.74,91.64 L45.80,91.66 L45.85,91.68 L45.91,91.70 L45.97,91.72 L46.03,91.74 L46.09,91.75 L46.15,91.77 L46.20,91.79 L46.26,91.81 L46.32,91.83 L46.38,91.84 L46.44,91.86 L46.50,91.88 L46.55,91.90 L46.61,91.92 L46.67,91.93 L46.73,91.95 L46.79,91.97 L46.84,91.99 L46.90,92.00 L46.96,92.02 L47.02,92.04 L47.08,92.06 L47.14,92.07 L47.19,92.09 L47.25,92.11 L47.31,92.13 L47.37,92.14 L47.43,92.16 L47.48,92.18 L47.54,92.19 L47.60,92.21 L47.66,92.23 L47.72,92.25 L47.78,92.26 L47.83,92.28 L47.89,92.30 L47.95,92.31 L48.01,92.33 L48.07,92.35 L48.12,92.36 L48.18,92.38 L48.24,92.40 L48.30,92.41 L48.36,92.43 L48.42,92.45 L48.47,92.46 L48.53,92.48 L48.59,92.50 L48.65,92.51 L48.71,92.53 L48.77,92.54 L48.82,92.56 L48.88,92.58 L48.94,92.59 L49.00,92.61 L49.06,92.63 L49.11,92.64 L49.17,92.66 L49.23,92.67 L49.29,92.69 L49.35,92.71 L49.41,92.72 L49.46,92.74 L49.52,92.75 L49.58,92.77 L49.64,92.79 L49.70,92.80 L49.75,92.82 L49.81,92.83 L49.87,92.85 L49.93,92.87 L49.99,92.88 L50.05,92.90 L50.10,92.91 L50.16,92.93 L50.22,92.94 L50.51,93.02 L50.80,93.10 L51.09,93.18 L51.38,93.25 L51.67,93.33 L51.97,93.41 L52.26,93.48 L52.55,93.56 L52.84,93.63 L53.13,93.70 L53.42,93.78 L53.71,93.85 L54.00,93.92 L54.29,94.00 L54.59,94.07 L54.88,94.14 L55.17,94.21 L55.46,94.29 L55.75,94.36 L56.04,94.43 L56.33,94.50 L56.62,94.57 L56.91,94.64 L57.20,94.71 L57.50,94.78 L57.79,94.85 L58.08,94.92 L58.37,94.99 L58.66,95.06 L58.95,95.13 L59.24,95.20 L59.53,95.27 L59.82,95.33 L60.11,95.40 L60.41,95.47 L60.70,95.54 L60.99,95.61 L61.28,95.67 L61.57,95.74 L61.86,95.81 L62.15,95.88 L62.44,95.94 L62.73,96.01 L63.02,96.08 L63.32,96.15 L63.61,96.21 L63.90,96.28 L64.19,96.35 L64.48,96.41 L64.77,96.48 L65.06,96.55 L65.35,96.61 L65.64,96.68 L65.93,96.74 L66.23,96.81 L66.52,96.88 L66.81,96.94 L67.10,97.01 L67.39,97.07 L67.68,97.14 L67.97,97.20 L68.26,97.27 L68.55,97.33 L68.84,97.40 L69.14,97.46 L69.43,97.53 L69.72,97.59 L70.01,97.66 L70.30,97.72 L70.59,97.78 L70.88,97.85 L71.17,97.91 L71.46,97.98 L71.75,98.04 L72.05,98.11 L72.34,98.17 L72.63,98.23 L72.92,98.30 L73.21,98.36 L73.50,98.42 L74.95,98.74 L76.41,99.05 L77.87,99.37 L79.32,99.68 L80.78,99.98 L82.23,100.29 L83.69,100.60 L85.14,100.90 L86.59,101.20 L88.05,101.50 L89.50,101.80 L90.96,102.09 L92.41,102.39 L93.87,102.68 L95.33,102.97 L96.78,103.26 L98.23,103.55 L99.69,103.83 L101.15,104.12 L102.60,104.40 L104.06,104.68 L105.51,104.96 L106.97,105.24 L108.42,105.52 L109.88,105.79 L111.33,106.06 L112.78,106.34 L114.24,106.61 L115.69,106.88 L117.15,107.14 L118.60,107.41 L120.06,107.68 L121.52,107.94 L122.97,108.20 L124.43,108.46 L125.88,108.72 L127.34,108.98 L128.79,109.24 L130.25,109.49 L131.70,109.75 L133.16,110.00 L134.61,110.25 L136.06,110.50 L137.52,110.75 L138.97,111.00 L140.43,111.25 L141.88,111.49 L143.34,111.74 L144.80,111.98 L146.25,112.22 L147.71,112.46 L149.16,112.70 L150.62,112.94 L152.07,113.18 L153.53,113.41 L154.98,113.65 L156.44,113.88 L157.89,114.11 L159.34,114.34 L160.80,114.57 L162.25,114.80 L163.71,115.03 L165.16,115.26 L166.62,115.48 L168.08,115.71 L169.53,115.93 L170.99,116.15 L172.44,116.37 L173.90,116.59 L175.35,116.81 L176.81,117.03 L178.26,117.25 L179.72,117.46 L181.17,117.68 L182.62,117.89 L184.08,118.11 L185.54,118.32 L186.99,118.53 L188.45,118.74 L189.90,118.95 L191.36,119.16 L192.81,119.37 L194.27,119.57 L195.72,119.78 L197.18,119.98 L198.63,120.18 L200.09,120.39 L201.54,120.59 L203.00,120.79 L204.45,120.99 L205.91,121.19 L207.36,121.39 L208.82,121.58 L210.27,121.78 L211.73,121.98 L213.18,122.17 L214.64,122.36 L216.09,122.56 L217.55,122.75 L219.00,122.94 L220.46,123.13 L221.91,123.32 L223.37,123.51 L224.82,123.70 L226.28,123.88 L227.73,124.07 L229.19,124.25 L230.64,124.44 L232.10,124.62 L233.55,124.81 L235.01,124.99 L236.46,125.17 L237.92,125.35 L239.37,125.53 L240.83,125.71 L242.28,125.89 L243.74,126.07 L245.19,126.24 L246.65,126.42 L248.10,126.59 L249.56,126.77 L251.01,126.94 L252.47,127.12 L253.92,127.29 L255.38,127.46 L256.83,127.63 L258.29,127.80 L259.74,127.97 L261.19,128.14 L262.65,128.31 L264.11,128.48 L265.56,128.64 L267.01,128.81 L268.47,128.97 L269.93,129.14 L271.38,129.30 L272.83,129.47 L274.29,129.63 L275.75,129.79 L277.20,129.95 L278.66,130.11 L280.11,130.27 L281.56,130.43 L283.02,130.59 L284.48,130.75 L285.93,130.91 L287.38,131.07 L288.84,131.22 L290.30,131.38 L291.75,131.53 L293.20,131.69 L294.66,131.84 L296.12,132.00 L297.57,132.15 L299.02,132.30 L300.48,132.45 L301.94,132.60 L303.39,132.75 L304.84,132.90 L306.30,133.05 L307.75,133.20 L309.21,133.35 L310.66,133.50 L312.12,133.65 L313.57,133.79 L315.03,133.94 L316.49,134.08 L317.94,134.23 L319.39,134.37 L320.85,134.52 L322.31,134.66 L323.76,134.80 L325.21,134.94 L326.67,135.09 L328.12,135.23 L329.58,135.37 L331.03,135.51 L332.49,135.65 L333.94,135.79 L335.40,135.92" fill="none" stroke="#333" stroke-width="0.8" stroke-dasharray="4.2 4.6" stroke-dashoffset="6.50"/>
<ellipse cx="44.40" cy="91.20" rx="1.03" ry="0.85" fill="#000"/>
<ellipse cx="61.86" cy="95.81" rx="1.03" ry="0.85" fill="#000"/>
<ellipse cx="79.32" cy="99.68" rx="1.03" ry="0.85" fill="#000"/>
<ellipse cx="96.78" cy="103.26" rx="1.03" ry="0.85" fill="#000"/>
<ellipse cx="114.24" cy="106.61" rx="1.03" ry="0.85" fill="#000"/>
<ellipse cx="131.70" cy="109.75" rx="1.03" ry="0.85" fill="#000"/>
<ellipse cx="149.16" cy="112.70" rx="1.03" ry="0.85" fill="#000"/>
<ellipse cx="166.62" cy="115.48" rx="1.03" ry="0.85" fill="#000"/>
<ellipse cx="184.08" cy="118.11" rx="1.03" ry="0.85" fill="#000"/>
<ellipse cx="201.54" cy="120.59" rx="1.03" ry="0.85" fill="#000"/>
<ellipse cx="219.00" cy="122.94" rx="1.03" ry="0.85" fill="#000"/>
<ellipse cx="236.46" cy="125.17" rx="1.03" ry="0.85" fill="#000"/>
<ellipse cx="253.92" cy="127.29" rx="1.03" ry="0.85" fill="#000"/>
<ellipse cx="271.38" cy="129.30" rx="1.03" ry="0.85" fill="#000"/>
<ellipse cx="288.84" cy="131.22" rx="1.03" ry="0.85" fill="#000"/>
<ellipse cx="306.30" cy="133.05" rx="1.03" ry="0.85" fill="#000"/>
<ellipse cx="323.76" cy="134.80" rx="1.03" ry="0.85" fill="#000"/>
<path d="M44.40,91.20 L44.46,91.21 L44.52,91.21 L44.57,91.22 L44.63,91.22 L44.69,91.23 L44.75,91.23 L44.81,91.24 L44.87,91.24 L44.92,91.25 L44.98,91.25 L45.04,91.26 L45.10,91.26 L45.16,91.27 L45.21,91.27 L45.27,91.28 L45.33,91.28 L45.39,91.29 L45.45,91.29 L45.51,91.30 L45.56,91.30 L45.62,91.31 L45.68,91.31 L45.74,91.32 L45.80,91.32 L45.85,91.33 L45.91,91.34 L45.97,91.34 L46.03,91.35 L46.09,91.35 L46.15,91.36 L46.20,91.36 L46.26,91.37 L46.32,91.37 L46.38,91.38 L46.44,91.38 L46.50,91.39 L46.55,91.39 L46.61,91.40 L46.67,91.40 L46.73,91.41 L46.79,91.41 L46.84,91.42 L46.90,91.42 L46.96,91.43 L47.02,91.43 L47.08,91.44 L47.14,91.44 L47.19,91.45 L47.25,91.45 L47.31,91.46 L47.37,91.46 L47.43,91.47 L47.48,91.48 L47.54,91.48 L47.60,91.49 L47.66,91.49 L47.72,91.50 L47.78,91.50 L47.83,91.51 L47.89,91.51 L47.95,91.52 L48.01,91.52 L48.07,91.53 L48.12,91.53 L48.18,91.54 L48.24,91.54 L48.30,91.55 L48.36,91.55 L48.42,91.56 L48.47,91.56 L48.53,91.57 L48.59,91.57 L48.65,91.58 L48.71,91.58 L48.77,91.59 L48.82,91.59 L48.88,91.60 L48.94,91.60 L49.00,91.61 L49.06,91.61 L49.11,91.62 L49.17,91.63 L49.23,91.63 L49.29,91.64 L49.35,91.64 L49.41,91.65 L49.46,91.65 L49.52,91.66 L49.58,91.66 L49.64,91.67 L49.70,91.67 L49.75,91.68 L49.81,91.68 L49.87,91.69 L49.93,91.69 L49.99,91.70 L50.05,91.70 L50.10,91.71 L50.16,91.71 L50.22,91.72 L50.51,91.74 L50.80,91.77 L51.09,91.80 L51.38,91.82 L51.67,91.85 L51.97,91.87 L52.26,91.90 L52.55,91.92 L52.84,91.95 L53.13,91.98 L53.42,92.00 L53.71,92.03 L54.00,92.05 L54.29,92.08 L54.59,92.10 L54.88,92.13 L55.17,92.15 L55.46,92.18 L55.75,92.21 L56.04,92.23 L56.33,92.26 L56.62,92.28 L56.91,92.31 L57.20,92.33 L57.50,92.36 L57.79,92.38 L58.08,92.41 L58.37,92.43 L58.66,92.46 L58.95,92.49 L59.24,92.51 L59.53,92.54 L59.82,92.56 L60.11,92.59 L60.41,92.61 L60.70,92.64 L60.99,92.66 L61.28,92.69 L61.57,92.71 L61.86,92.74 L62.15,92.76 L62.44,92.79 L62.73,92.81 L63.02,92.84 L63.32,92.86 L63.61,92.89 L63.90,92.91 L64.19,92.94 L64.48,92.96 L64.77,92.99 L65.06,93.01 L65.35,93.04 L65.64,93.06 L65.93,93.09 L66.23,93.11 L66.52,93.14 L66.81,93.16 L67.10,93.19 L67.39,93.21 L67.68,93.24 L67.97,93.26 L68.26,93.29 L68.55,93.31 L68.84,93.34 L69.14,93.36 L69.43,93.39 L69.72,93.41 L70.01,93.44 L70.30,93.46 L70.59,93.49 L70.88,93.51 L71.17,93.54 L71.46,93.56 L71.75,93.59 L72.05,93.61 L72.34,93.64 L72.63,93.66 L72.92,93.69 L73.21,93.71 L73.50,93.74 L74.95,93.86 L76.41,93.98 L77.87,94.11 L79.32,94.23 L80.78,94.35 L82.23,94.47 L83.69,94.59 L85.14,94.71 L86.59,94.84 L88.05,94.96 L89.50,95.08 L90.96,95.20 L92.41,95.32 L93.87,95.43 L95.33,95.55 L96.78,95.67 L98.23,95.79 L99.69,95.91 L101.15,96.03 L102.60,96.14 L104.06,96.26 L105.51,96.38 L106.97,96.49 L108.42,96.61 L109.88,96.73 L111.33,96.84 L112.78,96.96 L114.24,97.07 L115.69,97.19 L117.15,97.30 L118.60,97.42 L120.06,97.53 L121.52,97.64 L122.97,97.76 L124.43,97.87 L125.88,97.98 L127.34,98.09 L128.79,98.21 L130.25,98.32 L131.70,98.43 L133.16,98.54 L134.61,98.65 L136.06,98.76 L137.52,98.87 L138.97,98.98 L140.43,99.09 L141.88,99.20 L143.34,99.31 L144.80,99.42 L146.25,99.53 L147.71,99.64 L149.16,99.75 L150.62,99.85 L152.07,99.96 L153.53,100.07 L154.98,100.17 L156.44,100.28 L157.89,100.39 L159.34,100.49 L160.80,100.60" fill="none" stroke="#333" stroke-width="0.8" stroke-dasharray="7.8 9.1 0.8 8.7" stroke-dashoffset="23.60"/>
<path d="M160.80,100.60 L160.80,100.60 L162.25,100.71 L163.71,100.81 L165.16,100.92 L166.62,101.02 L168.08,101.13 L169.53,101.23 L170.99,101.33 L172.44,101.44 L173.90,101.54 L175.35,101.65 L176.81,101.75 L178.26,101.85 L179.72,101.95 L181.17,102.06 L182.62,102.16 L184.08,102.26 L185.54,102.36 L186.99,102.46 L188.45,102.56 L189.90,102.66 L191.36,102.76 L192.81,102.86 L194.27,102.96 L195.72,103.06 L197.18,103.16 L198.63,103.26 L200.09,103.36 L201.54,103.46 L203.00,103.56 L204.45,103.66 L205.91,103.76 L207.36,103.85 L208.82,103.95 L210.27,104.05 L211.73,104.15 L213.18,104.24 L214.64,104.34 L216.09,104.44 L217.55,104.53 L219.00,104.63 L220.46,104.72 L221.91,104.82 L223.37,104.91 L224.82,105.01 L226.28,105.10 L227.73,105.20 L229.19,105.29 L230.64,105.39 L232.10,105.48 L233.55,105.57 L235.01,105.67 L236.46,105.76 L237.92,105.85 L239.37,105.94 L240.83,106.04 L242.28,106.13 L243.74,106.22 L245.19,106.31 L246.65,106.40 L248.10,106.49 L249.56,106.59 L251.01,106.68 L252.47,106.77 L253.92,106.86 L255.38,106.95 L256.83,107.04 L258.29,107.13 L259.74,107.22 L261.19,107.31 L262.65,107.39 L264.11,107.48 L265.56,107.57 L267.01,107.66 L268.47,107.75 L269.93,107.84 L271.38,107.92 L272.83,108.01 L274.29,108.10 L275.75,108.19 L277.20,108.27" fill="none" stroke="#333" stroke-width="0.8" stroke-dasharray="7.8 9.1 0.8 8.7" stroke-dashoffset="25.70"/>
<path d="M277.20,108.27 L277.20,108.27 L278.66,108.36 L280.11,108.45 L281.56,108.53 L283.02,108.62 L284.48,108.70 L285.93,108.79 L287.38,108.87 L288.84,108.96 L290.30,109.05 L291.75,109.13 L293.20,109.21 L294.66,109.30 L296.12,109.38 L297.57,109.47 L299.02,109.55 L300.48,109.63 L301.94,109.72 L303.39,109.80 L304.84,109.88 L306.30,109.97 L307.75,110.05 L309.21,110.13 L310.66,110.21 L312.12,110.30 L313.57,110.38 L315.03,110.46 L316.49,110.54 L317.94,110.62 L319.39,110.70 L320.85,110.78 L322.31,110.86 L323.76,110.94 L325.21,111.02 L326.67,111.10 L328.12,111.18 L329.58,111.26 L331.03,111.34 L332.49,111.42 L333.94,111.50 L335.40,111.58" fill="none" stroke="#333" stroke-width="0.8" stroke-dasharray="7.8 9.1 0.8 8.7" stroke-dashoffset="25.90"/>
<rect x="43.20" y="90.30" width="2.8" height="2.2" fill="#000"/>
<rect x="60.66" y="91.84" width="2.8" height="2.2" fill="#000"/>
<rect x="78.12" y="93.33" width="2.8" height="2.2" fill="#000"/>
<rect x="95.58" y="94.77" width="2.8" height="2.2" fill="#000"/>
<rect x="113.04" y="96.17" width="2.8" height="2.2" fill="#000"/>
<rect x="130.50" y="97.53" width="2.8" height="2.2" fill="#000"/>
<rect x="147.96" y="98.85" width="2.8" height="2.2" fill="#000"/>
<rect x="165.42" y="100.12" width="2.8" height="2.2" fill="#000"/>
<rect x="182.88" y="101.36" width="2.8" height="2.2" fill="#000"/>
<rect x="200.34" y="102.56" width="2.8" height="2.2" fill="#000"/>
<rect x="217.80" y="103.73" width="2.8" height="2.2" fill="#000"/>
<rect x="235.26" y="104.86" width="2.8" height="2.2" fill="#000"/>
<rect x="252.72" y="105.96" width="2.8" height="2.2" fill="#000"/>
<rect x="270.18" y="107.02" width="2.8" height="2.2" fill="#000"/>
<rect x="287.64" y="108.06" width="2.8" height="2.2" fill="#000"/>
<rect x="305.10" y="109.07" width="2.8" height="2.2" fill="#000"/>
<rect x="322.56" y="110.04" width="2.8" height="2.2" fill="#000"/>
<text transform="translate(9.10,151.00) scale(1.33,1) rotate(-90)" style="font-family:'Liberation Serif',serif;font-style:italic;font-size:9.3px;stroke:#000;stroke-width:0.12px" fill="#000">H/H<tspan font-size="5.8px" dy="2.0">r</tspan></text>
<text transform="translate(181.28,243.90) scale(1.354,1)" style="font-family:'Liberation Serif', serif;font-size:8.90px;font-style:italic;" fill="#000">x/h</text>
<text transform="translate(195.38,246.40) scale(1.408,1)" style="font-family:'Liberation Serif', serif;font-size:5.60px;font-style:italic;" fill="#000">r</text>
<text transform="translate(179.07,274.80) scale(1.226,1)" style="font-family:'Liberation Serif', serif;font-size:9.50px;font-style:italic;" fill="#000">x/L</text>
<text transform="translate(194.02,276.70) scale(1.194,1)" style="font-family:'Liberation Serif', serif;font-size:5.90px;font-style:italic;" fill="#000">90</text>
<rect x="44.80" y="1.20" width="117.80" height="56.50" fill="#fff" stroke="#cfcfcf" stroke-width="1"/>
<line x1="47.10" y1="6.45" x2="61.50" y2="6.45" stroke="#222" stroke-width="0.9"/>
<text transform="translate(64.70,7.90) scale(1.200,1)" style="font-family:'Liberation Serif',serif;font-size:5.6px" fill="#000"><tspan font-style="italic">ωd</tspan>=0.16; <tspan font-style="italic">C</tspan><tspan font-size="3.3px" dy="1.0">D</tspan><tspan dy="-1.0">=0.33; em. obs.</tspan></text>
<line x1="47.10" y1="14.45" x2="60.00" y2="14.45" stroke="#333" stroke-width="0.9" stroke-dasharray="4.1 4.5"/>
<text transform="translate(64.70,15.70) scale(1.200,1)" style="font-family:'Liberation Serif',serif;font-size:5.6px" fill="#000"><tspan font-style="italic">ωd</tspan>=0.04; <tspan font-style="italic">C</tspan><tspan font-size="3.3px" dy="1.0">D</tspan><tspan dy="-1.0">=0.80; em. obs.</tspan></text>
<line x1="47.10" y1="22.45" x2="55.40" y2="22.45" stroke="#333" stroke-width="0.9"/>
<text transform="translate(64.70,23.50) scale(1.200,1)" style="font-family:'Liberation Serif',serif;font-size:5.6px" fill="#000"><tspan font-style="italic">ωd</tspan>=0.01; <tspan font-style="italic">C</tspan><tspan font-size="3.3px" dy="1.0">D</tspan><tspan dy="-1.0">=1.065; em. obs.</tspan></text>
<line x1="48.30" y1="30.10" x2="60.30" y2="30.10" stroke="#555" stroke-width="0.7"/>
<circle cx="48.30" cy="30.10" r="0.85" fill="#000"/>
<circle cx="54.40" cy="30.10" r="0.85" fill="#000"/>
<circle cx="60.30" cy="30.10" r="0.85" fill="#000"/>
<text transform="translate(64.70,31.30) scale(1.200,1)" style="font-family:'Liberation Serif',serif;font-size:5.6px" fill="#000"><tspan font-style="italic">ωd</tspan>=0.16; <tspan font-style="italic">C</tspan><tspan font-size="3.3px" dy="1.0">D</tspan><tspan dy="-1.0">=0.33; sub. obs. 50%</tspan></text>
<line x1="55.60" y1="37.90" x2="59.80" y2="37.90" stroke="#555" stroke-width="0.7"/>
<circle cx="48.30" cy="37.90" r="0.75" fill="#000"/>
<circle cx="54.40" cy="37.90" r="0.75" fill="#000"/>
<circle cx="60.30" cy="37.90" r="0.75" fill="#000"/>
<circle cx="50.60" cy="37.90" r="0.5" fill="#666"/>
<text transform="translate(64.70,39.10) scale(1.200,1)" style="font-family:'Liberation Serif',serif;font-size:5.6px" fill="#000"><tspan font-style="italic">ωd</tspan>=0.04; <tspan font-style="italic">C</tspan><tspan font-size="3.3px" dy="1.0">D</tspan><tspan dy="-1.0">=0.80; sub. obs. 50%</tspan></text>
<line x1="48.30" y1="45.50" x2="54.40" y2="45.50" stroke="#444" stroke-width="0.8"/>
<rect x="47.30" y="44.50" width="2" height="2" fill="#000"/>
<rect x="53.40" y="44.50" width="2" height="2" fill="#000"/>
<rect x="59.30" y="44.50" width="2" height="2" fill="#000"/>
<text transform="translate(64.70,46.90) scale(1.210,1)" style="font-family:'Liberation Serif',serif;font-size:5.6px" fill="#000"><tspan font-style="italic">ωd</tspan>=0.01; <tspan font-style="italic">C</tspan><tspan font-size="3.3px" dy="1.0">D</tspan><tspan dy="-1.0">=1.065; sub. obs. 50%</tspan></text>
<line x1="47.00" y1="53.30" x2="61.50" y2="53.30" stroke="#e83030" stroke-width="1"/>
<text transform="translate(64.70,54.70) scale(1.235,1)" style="font-family:'Liberation Serif',serif;font-size:5.6px" fill="#000">without obstacles</text>
<line x1="387.40" y1="206.45" x2="678.40" y2="206.45" stroke="#bdbdbd" stroke-width="1"/>
<line x1="387.40" y1="180.50" x2="678.40" y2="180.50" stroke="#bdbdbd" stroke-width="1"/>
<line x1="387.40" y1="155.20" x2="678.40" y2="155.20" stroke="#bdbdbd" stroke-width="1"/>
<line x1="387.40" y1="129.40" x2="678.40" y2="129.40" stroke="#bdbdbd" stroke-width="1"/>
<line x1="387.40" y1="103.90" x2="678.40" y2="103.90" stroke="#bdbdbd" stroke-width="1"/>
<line x1="387.40" y1="78.60" x2="678.40" y2="78.60" stroke="#bdbdbd" stroke-width="1"/>
<line x1="416.40" y1="65.60" x2="416.40" y2="219.20" stroke="#bcbcbc" stroke-width="1"/>
<line x1="474.90" y1="65.60" x2="474.90" y2="219.20" stroke="#bcbcbc" stroke-width="1"/>
<line x1="533.35" y1="65.60" x2="533.35" y2="219.20" stroke="#bcbcbc" stroke-width="1"/>
<line x1="591.40" y1="65.60" x2="591.40" y2="219.20" stroke="#bcbcbc" stroke-width="1"/>
<line x1="649.30" y1="65.60" x2="649.30" y2="219.20" stroke="#bcbcbc" stroke-width="1"/>
<line x1="387.40" y1="193.30" x2="678.40" y2="193.30" stroke="#9c9c9c" stroke-width="1"/>
<line x1="387.40" y1="168.20" x2="678.40" y2="168.20" stroke="#9c9c9c" stroke-width="1"/>
<line x1="387.40" y1="142.30" x2="678.40" y2="142.30" stroke="#9c9c9c" stroke-width="1"/>
<line x1="387.40" y1="116.75" x2="678.40" y2="116.75" stroke="#9c9c9c" stroke-width="1"/>
<line x1="387.40" y1="91.05" x2="678.40" y2="91.05" stroke="#9c9c9c" stroke-width="1"/>
<line x1="387.40" y1="65.60" x2="678.40" y2="65.60" stroke="#9c9c9c" stroke-width="1"/>
<line x1="445.50" y1="65.60" x2="445.50" y2="222.20" stroke="#959595" stroke-width="1"/>
<line x1="504.00" y1="65.60" x2="504.00" y2="222.20" stroke="#959595" stroke-width="1"/>
<line x1="562.35" y1="65.60" x2="562.35" y2="222.20" stroke="#959595" stroke-width="1"/>
<line x1="620.35" y1="65.60" x2="620.35" y2="222.20" stroke="#959595" stroke-width="1"/>
<line x1="678.40" y1="65.60" x2="678.40" y2="222.20" stroke="#959595" stroke-width="1"/>
<line x1="387.40" y1="65.60" x2="387.40" y2="222.20" stroke="#555" stroke-width="1"/>
<line x1="383.10" y1="219.20" x2="678.40" y2="219.20" stroke="#777" stroke-width="1"/>
<line x1="383.10" y1="219.20" x2="387.40" y2="219.20" stroke="#555" stroke-width="1"/>
<line x1="387.40" y1="206.45" x2="389.90" y2="206.45" stroke="#666" stroke-width="1"/>
<line x1="383.10" y1="193.30" x2="387.40" y2="193.30" stroke="#555" stroke-width="1"/>
<line x1="387.40" y1="180.50" x2="389.90" y2="180.50" stroke="#666" stroke-width="1"/>
<line x1="383.10" y1="168.20" x2="387.40" y2="168.20" stroke="#555" stroke-width="1"/>
<line x1="387.40" y1="155.20" x2="389.90" y2="155.20" stroke="#666" stroke-width="1"/>
<line x1="383.10" y1="142.30" x2="387.40" y2="142.30" stroke="#555" stroke-width="1"/>
<line x1="387.40" y1="129.40" x2="389.90" y2="129.40" stroke="#666" stroke-width="1"/>
<line x1="383.10" y1="116.75" x2="387.40" y2="116.75" stroke="#555" stroke-width="1"/>
<line x1="387.40" y1="103.90" x2="389.90" y2="103.90" stroke="#666" stroke-width="1"/>
<line x1="383.10" y1="91.05" x2="387.40" y2="91.05" stroke="#555" stroke-width="1"/>
<line x1="387.40" y1="78.60" x2="389.90" y2="78.60" stroke="#666" stroke-width="1"/>
<line x1="383.10" y1="65.60" x2="387.40" y2="65.60" stroke="#555" stroke-width="1"/>
<text transform="translate(359.55,222.15) scale(1.197,1)" style="font-family:'Liberation Serif', serif;font-size:9.50px;" fill="#000">0.00</text>
<text transform="translate(359.55,196.25) scale(1.197,1)" style="font-family:'Liberation Serif', serif;font-size:9.50px;" fill="#000">0.20</text>
<text transform="translate(359.55,171.15) scale(1.197,1)" style="font-family:'Liberation Serif', serif;font-size:9.50px;" fill="#000">0.40</text>
<text transform="translate(359.55,145.25) scale(1.197,1)" style="font-family:'Liberation Serif', serif;font-size:9.50px;" fill="#000">0.60</text>
<text transform="translate(359.55,119.70) scale(1.197,1)" style="font-family:'Liberation Serif', serif;font-size:9.50px;" fill="#000">0.80</text>
<text transform="translate(358.95,94.00) scale(1.233,1)" style="font-family:'Liberation Serif', serif;font-size:9.50px;" fill="#000">1.00</text>
<text transform="translate(358.95,68.55) scale(1.233,1)" style="font-family:'Liberation Serif', serif;font-size:9.50px;" fill="#000">1.20</text>
<text transform="translate(384.74,233.90) scale(1.200,1)" style="font-family:'Liberation Serif', serif;font-size:9.20px;" fill="#000">0</text>
<text transform="translate(440.70,233.90) scale(1.200,1)" style="font-family:'Liberation Serif', serif;font-size:9.20px;" fill="#000">10</text>
<text transform="translate(499.15,233.90) scale(1.200,1)" style="font-family:'Liberation Serif', serif;font-size:9.20px;" fill="#000">20</text>
<text transform="translate(557.32,233.90) scale(1.200,1)" style="font-family:'Liberation Serif', serif;font-size:9.20px;" fill="#000">30</text>
<text transform="translate(615.69,233.90) scale(1.200,1)" style="font-family:'Liberation Serif', serif;font-size:9.20px;" fill="#000">40</text>
<text transform="translate(673.67,233.90) scale(1.200,1)" style="font-family:'Liberation Serif', serif;font-size:9.20px;" fill="#000">50</text>
<line x1="387.40" y1="249.40" x2="678.40" y2="249.40" stroke="#777" stroke-width="1"/>
<line x1="387.40" y1="249.40" x2="387.40" y2="252.60" stroke="#777" stroke-width="1"/>
<text transform="translate(384.74,263.85) scale(1.200,1)" style="font-family:'Liberation Serif', serif;font-size:9.20px;" fill="#000">0</text>
<line x1="411.85" y1="249.40" x2="411.85" y2="252.60" stroke="#777" stroke-width="1"/>
<text transform="translate(409.15,263.85) scale(1.200,1)" style="font-family:'Liberation Serif', serif;font-size:9.20px;" fill="#000">1</text>
<line x1="436.30" y1="249.40" x2="436.30" y2="252.60" stroke="#777" stroke-width="1"/>
<text transform="translate(433.82,263.85) scale(1.200,1)" style="font-family:'Liberation Serif', serif;font-size:9.20px;" fill="#000">2</text>
<line x1="460.75" y1="249.40" x2="460.75" y2="252.60" stroke="#777" stroke-width="1"/>
<text transform="translate(458.13,263.85) scale(1.200,1)" style="font-family:'Liberation Serif', serif;font-size:9.20px;" fill="#000">3</text>
<line x1="485.20" y1="249.40" x2="485.20" y2="252.60" stroke="#777" stroke-width="1"/>
<text transform="translate(482.64,263.85) scale(1.200,1)" style="font-family:'Liberation Serif', serif;font-size:9.20px;" fill="#000">4</text>
<line x1="509.65" y1="249.40" x2="509.65" y2="252.60" stroke="#777" stroke-width="1"/>
<text transform="translate(506.98,263.85) scale(1.200,1)" style="font-family:'Liberation Serif', serif;font-size:9.20px;" fill="#000">5</text>
<line x1="534.10" y1="249.40" x2="534.10" y2="252.60" stroke="#777" stroke-width="1"/>
<text transform="translate(531.46,263.85) scale(1.200,1)" style="font-family:'Liberation Serif', serif;font-size:9.20px;" fill="#000">6</text>
<line x1="558.55" y1="249.40" x2="558.55" y2="252.60" stroke="#777" stroke-width="1"/>
<text transform="translate(555.77,263.85) scale(1.200,1)" style="font-family:'Liberation Serif', serif;font-size:9.20px;" fill="#000">7</text>
<line x1="583.00" y1="249.40" x2="583.00" y2="252.60" stroke="#777" stroke-width="1"/>
<text transform="translate(580.44,263.85) scale(1.200,1)" style="font-family:'Liberation Serif', serif;font-size:9.20px;" fill="#000">8</text>
<line x1="607.45" y1="249.40" x2="607.45" y2="252.60" stroke="#777" stroke-width="1"/>
<text transform="translate(604.95,263.85) scale(1.200,1)" style="font-family:'Liberation Serif', serif;font-size:9.20px;" fill="#000">9</text>
<line x1="631.90" y1="249.40" x2="631.90" y2="252.60" stroke="#777" stroke-width="1"/>
<text transform="translate(626.30,263.85) scale(1.200,1)" style="font-family:'Liberation Serif', serif;font-size:9.20px;" fill="#000">10</text>
<line x1="656.35" y1="249.40" x2="656.35" y2="252.60" stroke="#777" stroke-width="1"/>
<text transform="translate(651.09,263.85) scale(1.200,1)" style="font-family:'Liberation Serif', serif;font-size:9.20px;" fill="#000">11</text>
<path d="M387.40,91.01 L387.52,91.01 L387.63,91.01 L387.75,91.00 L387.87,91.00 L387.98,91.00 L388.10,91.00 L388.21,91.00 L388.33,91.00 L388.45,91.00 L388.56,90.99 L388.68,90.99 L388.80,90.99 L388.91,90.99 L389.03,90.99 L389.15,90.99 L389.26,90.99 L389.38,90.99 L389.50,90.98 L389.61,90.98 L389.73,90.98 L389.84,90.98 L389.96,90.98 L390.08,90.98 L390.19,90.98 L390.31,90.97 L390.43,90.97 L390.54,90.97 L390.66,90.97 L390.78,90.97 L390.89,90.97 L391.01,90.97 L391.12,90.96 L391.24,90.96 L391.36,90.96 L391.47,90.96 L391.59,90.96 L391.71,90.96 L391.82,90.96 L391.94,90.96 L392.06,90.95 L392.17,90.95 L392.29,90.95 L392.41,90.95 L392.52,90.95 L392.64,90.95 L392.75,90.95 L392.87,90.94 L392.99,90.94 L393.10,90.94 L393.22,90.94 L393.34,90.94 L393.45,90.94 L393.57,90.94 L393.69,90.94 L393.80,90.93 L393.92,90.93 L394.03,90.93 L394.15,90.93 L394.27,90.93 L394.38,90.93 L394.50,90.93 L394.62,90.92 L394.73,90.92 L394.85,90.92 L394.97,90.92 L395.08,90.92 L395.20,90.92 L395.32,90.92 L395.43,90.92 L395.55,90.91 L395.66,90.91 L395.78,90.91 L395.90,90.91 L396.01,90.91 L396.13,90.91 L396.25,90.91 L396.36,90.91 L396.48,90.90 L396.60,90.90 L396.71,90.90 L396.83,90.90 L396.94,90.90 L397.06,90.90 L397.18,90.90 L397.29,90.89 L397.41,90.89 L397.53,90.89 L397.64,90.89 L397.76,90.89 L397.88,90.89 L397.99,90.89 L398.11,90.89 L398.23,90.88 L398.34,90.88 L398.46,90.88 L398.57,90.88 L398.69,90.88 L398.81,90.88 L398.92,90.88 L399.04,90.87 L399.62,90.87 L400.20,90.86 L400.79,90.86 L401.37,90.85 L401.95,90.84 L402.53,90.84 L403.11,90.83 L403.70,90.82 L404.28,90.82 L404.86,90.81 L405.44,90.80 L406.02,90.80 L406.61,90.79 L407.19,90.78 L407.77,90.78 L408.35,90.77 L408.93,90.76 L409.52,90.76 L410.10,90.75 L410.68,90.74 L411.26,90.74 L411.84,90.73 L412.43,90.72 L413.01,90.72 L413.59,90.71 L414.17,90.70 L414.75,90.70 L415.34,90.69 L415.92,90.69 L416.50,90.68 L417.08,90.67 L417.66,90.67 L418.25,90.66 L418.83,90.65 L419.41,90.65 L419.99,90.64 L420.57,90.63 L421.16,90.63 L421.74,90.62 L422.32,90.61 L422.90,90.61 L423.48,90.60 L424.07,90.59 L424.65,90.59 L425.23,90.58 L425.81,90.57 L426.39,90.57 L426.98,90.56 L427.56,90.55 L428.14,90.54 L428.72,90.54 L429.30,90.53 L429.89,90.52 L430.47,90.52 L431.05,90.51 L431.63,90.50 L432.21,90.50 L432.80,90.49 L433.38,90.48 L433.96,90.48 L434.54,90.47 L435.12,90.46 L435.71,90.45 L436.29,90.45 L436.87,90.44 L437.45,90.43 L438.03,90.43 L438.62,90.42 L439.20,90.41 L439.78,90.40 L440.36,90.40 L440.94,90.39 L441.53,90.38 L442.11,90.37 L442.69,90.37 L443.27,90.36 L443.85,90.35 L444.44,90.34 L445.02,90.34 L445.60,90.33 L446.18,90.32 L446.76,90.31 L447.35,90.31 L447.93,90.30 L448.51,90.29 L449.09,90.28 L449.67,90.28 L450.26,90.27 L450.84,90.26 L451.42,90.25 L452.00,90.24 L452.58,90.24 L453.17,90.23 L453.75,90.22 L454.33,90.21 L454.91,90.20 L455.49,90.20 L456.08,90.19 L456.66,90.18 L457.24,90.17 L457.82,90.16 L458.40,90.16 L458.99,90.15 L459.57,90.14 L460.15,90.13 L460.73,90.12 L461.31,90.11 L461.90,90.11 L462.48,90.10 L463.06,90.09 L463.64,90.08 L464.22,90.07 L464.81,90.06 L465.39,90.05 L465.97,90.05 L466.55,90.04 L467.13,90.03 L467.72,90.02 L468.30,90.01 L468.88,90.00 L469.46,89.99 L470.04,89.99 L470.63,89.98 L471.21,89.97 L471.79,89.96 L472.37,89.95 L472.95,89.94 L473.54,89.93 L474.12,89.92 L474.70,89.92 L475.28,89.91 L475.86,89.90 L476.45,89.89 L477.03,89.88 L477.61,89.87 L478.19,89.86 L478.77,89.85 L479.36,89.85 L479.94,89.84 L480.52,89.83 L481.10,89.82 L481.68,89.81 L482.27,89.80 L482.85,89.79 L483.43,89.78 L484.01,89.77 L484.59,89.77 L485.18,89.76 L485.76,89.75 L486.34,89.74 L486.92,89.73 L487.50,89.72 L488.09,89.71 L488.67,89.70 L489.25,89.69 L489.83,89.68 L490.41,89.68 L491.00,89.67 L491.58,89.66 L492.16,89.65 L492.74,89.64 L493.32,89.63 L493.91,89.62 L494.49,89.61 L495.07,89.60 L495.65,89.60 L496.23,89.59 L496.82,89.58 L497.40,89.57 L497.98,89.56 L498.56,89.55 L499.14,89.54 L499.73,89.53 L500.31,89.52 L500.89,89.52 L501.47,89.51 L502.05,89.50 L502.64,89.49 L503.22,89.48 L503.80,89.47 L504.38,89.46 L504.96,89.45 L505.55,89.45 L506.13,89.44 L506.71,89.43 L507.29,89.42 L507.87,89.41 L508.46,89.40 L509.04,89.39 L509.62,89.38 L510.20,89.38 L510.78,89.37 L511.37,89.36 L511.95,89.35 L512.53,89.34 L513.11,89.33 L513.69,89.32 L514.28,89.31 L514.86,89.31 L515.44,89.30 L516.02,89.29 L516.60,89.28 L517.19,89.27 L517.77,89.26 L518.35,89.25 L518.93,89.24 L519.51,89.24 L520.10,89.23 L520.68,89.22 L521.26,89.21 L521.84,89.20 L522.42,89.19 L523.01,89.18 L523.59,89.17 L524.17,89.17 L524.75,89.16 L525.33,89.15 L525.92,89.14 L526.50,89.13 L527.08,89.12 L527.66,89.11 L528.24,89.10 L528.83,89.09 L529.41,89.09 L529.99,89.08 L530.57,89.07 L531.15,89.06 L531.74,89.05 L532.32,89.04 L532.90,89.03 L533.48,89.02 L534.06,89.01 L534.65,89.01 L535.23,89.00 L535.81,88.99 L536.39,88.98 L536.97,88.97 L537.56,88.96 L538.14,88.95 L538.72,88.94 L539.30,88.93 L539.88,88.93 L540.47,88.92 L541.05,88.91 L541.63,88.90 L542.21,88.89 L542.79,88.88 L543.38,88.87 L543.96,88.86 L544.54,88.85 L545.12,88.84 L545.70,88.84 L546.29,88.83 L546.87,88.82 L547.45,88.81 L548.03,88.80 L548.61,88.79 L549.20,88.78 L549.78,88.77 L550.36,88.76 L550.94,88.75 L551.52,88.74 L552.11,88.73 L552.69,88.73 L553.27,88.72 L553.85,88.71 L554.43,88.70 L555.02,88.69 L555.60,88.68 L556.18,88.67 L556.76,88.66 L557.34,88.65 L557.93,88.64 L558.51,88.63 L559.09,88.62 L559.67,88.61 L560.25,88.60 L560.84,88.59 L561.42,88.59 L562.00,88.58 L562.58,88.57 L563.16,88.56 L563.75,88.55 L564.33,88.54 L564.91,88.53 L565.49,88.52 L566.07,88.51 L566.66,88.50 L567.24,88.49 L567.82,88.48 L568.40,88.47 L568.98,88.46 L569.57,88.45 L570.15,88.44 L570.73,88.43 L571.31,88.42 L571.89,88.41 L572.48,88.40 L573.06,88.39 L573.64,88.38 L574.22,88.37 L574.80,88.36 L575.39,88.34 L575.97,88.33 L576.55,88.32 L577.13,88.31 L577.71,88.30 L578.30,88.29 L578.88,88.28 L579.46,88.27 L580.04,88.26 L580.62,88.25 L581.21,88.24 L581.79,88.23 L582.37,88.22 L582.95,88.21 L583.53,88.20 L584.12,88.18 L584.70,88.17 L585.28,88.16 L585.86,88.15 L586.44,88.14 L587.03,88.13 L587.61,88.12 L588.19,88.11 L588.77,88.10 L589.35,88.09 L589.94,88.08 L590.52,88.07 L591.10,88.06 L591.68,88.05 L592.26,88.03 L592.85,88.02 L593.43,88.01 L594.01,88.00 L594.59,87.99 L595.17,87.98 L595.76,87.97 L596.34,87.96 L596.92,87.95 L597.50,87.94 L598.08,87.93 L598.67,87.92 L599.25,87.91 L599.83,87.90 L600.41,87.89 L600.99,87.88 L601.58,87.87 L602.16,87.86 L602.74,87.85 L603.32,87.84 L603.90,87.83 L604.49,87.82 L605.07,87.81 L605.65,87.80 L606.23,87.79 L606.81,87.78 L607.40,87.77 L607.98,87.76 L608.56,87.75 L609.14,87.74 L609.72,87.73 L610.31,87.72 L610.89,87.71 L611.47,87.70 L612.05,87.70 L612.63,87.69 L613.22,87.68 L613.80,87.67 L614.38,87.66 L614.96,87.65 L615.54,87.64 L616.13,87.63 L616.71,87.63 L617.29,87.62 L617.87,87.61 L618.45,87.60 L619.04,87.59 L619.62,87.59 L620.20,87.58 L620.78,87.57 L621.36,87.56 L621.95,87.55 L622.53,87.55 L623.11,87.54 L623.69,87.53 L624.27,87.52 L624.86,87.52 L625.44,87.51 L626.02,87.50 L626.60,87.50 L627.18,87.49 L627.77,87.48 L628.35,87.47 L628.93,87.47 L629.51,87.46 L630.09,87.45 L630.68,87.45 L631.26,87.44 L631.84,87.43 L632.42,87.42 L633.00,87.42 L633.59,87.41 L634.17,87.40 L634.75,87.40 L635.33,87.39 L635.91,87.38 L636.50,87.38 L637.08,87.37 L637.66,87.37 L638.24,87.36 L638.82,87.35 L639.41,87.35 L639.99,87.34 L640.57,87.33 L641.15,87.33 L641.73,87.32 L642.32,87.31 L642.90,87.31 L643.48,87.30 L644.06,87.30 L644.64,87.29 L645.23,87.28 L645.81,87.28 L646.39,87.27 L646.97,87.26 L647.55,87.26 L648.14,87.25 L648.72,87.25 L649.30,87.24 L649.88,87.23 L650.46,87.23 L651.05,87.22 L651.63,87.22 L652.21,87.21 L652.79,87.20 L653.37,87.20 L653.96,87.19 L654.54,87.19 L655.12,87.18 L655.70,87.17 L656.28,87.17 L656.87,87.16 L657.45,87.16 L658.03,87.15 L658.61,87.14 L659.19,87.14 L659.78,87.13 L660.36,87.13 L660.94,87.12 L661.52,87.11 L662.10,87.11 L662.69,87.10 L663.27,87.10 L663.85,87.09 L664.43,87.09 L665.01,87.08 L665.60,87.07 L666.18,87.07 L666.76,87.06 L667.34,87.06 L667.92,87.05 L668.51,87.04 L669.09,87.04 L669.67,87.03 L670.25,87.02 L670.83,87.02 L671.42,87.01 L672.00,87.01 L672.58,87.00 L673.16,86.99 L673.74,86.99 L674.33,86.98 L674.91,86.98 L675.49,86.97 L676.07,86.96 L676.65,86.96 L677.24,86.95 L677.82,86.94 L678.40,86.94" fill="none" stroke="#e83030" stroke-width="0.85"/>
<path d="M387.40,91.20 L387.46,91.79 L387.52,92.36 L387.57,92.91 L387.63,93.45 L387.69,93.98 L387.75,94.49 L387.81,95.00 L387.87,95.49 L387.92,95.97 L387.98,96.44 L388.04,96.90 L388.10,97.35 L388.16,97.79 L388.21,98.23 L388.27,98.65 L388.33,99.07 L388.39,99.48 L388.45,99.89 L388.51,100.28 L388.56,100.68 L388.62,101.06 L388.68,101.44 L388.74,101.81 L388.80,102.18 L388.85,102.54 L388.91,102.89 L388.97,103.25 L389.03,103.59 L389.09,103.93 L389.15,104.27 L389.20,104.60 L389.26,104.93 L389.32,105.26 L389.38,105.58 L389.44,105.89 L389.50,106.21 L389.55,106.51 L389.61,106.82 L389.67,107.12 L389.73,107.42 L389.79,107.72 L389.84,108.01 L389.90,108.30 L389.96,108.59 L390.02,108.87 L390.08,109.15 L390.14,109.43 L390.19,109.70 L390.25,109.97 L390.31,110.24 L390.37,110.51 L390.43,110.78 L390.48,111.04 L390.54,111.30 L390.60,111.56 L390.66,111.81 L390.72,112.07 L390.78,112.32 L390.83,112.57 L390.89,112.81 L390.95,113.06 L391.01,113.30 L391.07,113.54 L391.12,113.78 L391.18,114.02 L391.24,114.25 L391.30,114.49 L391.36,114.72 L391.42,114.95 L391.47,115.18 L391.53,115.41 L391.59,115.63 L391.65,115.85 L391.71,116.08 L391.76,116.30 L391.82,116.51 L391.88,116.73 L391.94,116.95 L392.00,117.16 L392.06,117.38 L392.11,117.59 L392.17,117.80 L392.23,118.01 L392.29,118.21 L392.35,118.42 L392.41,118.62 L392.46,118.83 L392.52,119.03 L392.58,119.23 L392.64,119.43 L392.70,119.63 L392.75,119.82 L392.81,120.02 L392.87,120.22 L392.93,120.41 L392.99,120.60 L393.05,120.79 L393.10,120.98 L393.16,121.17 L393.22,121.36 L393.51,122.28 L393.80,123.18 L394.09,124.06 L394.38,124.91 L394.67,125.74 L394.97,126.56 L395.26,127.35 L395.55,128.12 L395.84,128.88 L396.13,129.62 L396.42,130.34 L396.71,131.05 L397.00,131.75 L397.29,132.43 L397.58,133.10 L397.88,133.75 L398.17,134.39 L398.46,135.02 L398.75,135.64 L399.04,136.24 L399.33,136.84 L399.62,137.42 L399.91,138.00 L400.20,138.56 L400.50,139.12 L400.79,139.66 L401.08,140.20 L401.37,140.73 L401.66,141.25 L401.95,141.76 L402.24,142.26 L402.53,142.75 L402.82,143.24 L403.11,143.72 L403.40,144.19 L403.70,144.66 L403.99,145.12 L404.28,145.57 L404.57,146.02 L404.86,146.46 L405.15,146.89 L405.44,147.31 L405.73,147.74 L406.02,148.15 L406.31,148.56 L406.61,148.96 L406.90,149.36 L407.19,149.75 L407.48,150.14 L407.77,150.53 L408.06,150.90 L408.35,151.28 L408.64,151.64 L408.93,152.01 L409.23,152.37 L409.52,152.72 L409.81,153.07 L410.10,153.42 L410.39,153.76 L410.68,154.10 L410.97,154.43 L411.26,154.76 L411.55,155.08 L411.84,155.41 L412.13,155.72 L412.43,156.04 L412.72,156.35 L413.01,156.66 L413.30,156.96 L413.59,157.26 L413.88,157.56 L414.17,157.85 L414.46,158.14 L414.75,158.43 L415.05,158.71 L415.34,158.99 L415.63,159.27 L415.92,159.55 L416.21,159.82 L416.50,160.09 L417.95,161.39 L419.41,162.64 L420.87,163.82 L422.32,164.94 L423.77,166.02 L425.23,167.04 L426.69,168.02 L428.14,168.96 L429.59,169.87 L431.05,170.73 L432.50,171.56 L433.96,172.36 L435.41,173.13 L436.87,173.87 L438.32,174.59 L439.78,175.28 L441.23,175.94 L442.69,176.58 L444.14,177.21 L445.60,177.81 L447.05,178.39 L448.51,178.95 L449.96,179.50 L451.42,180.03 L452.88,180.54 L454.33,181.04 L455.78,181.52 L457.24,181.99 L458.69,182.45 L460.15,182.89 L461.60,183.32 L463.06,183.74 L464.51,184.15 L465.97,184.55 L467.42,184.94 L468.88,185.32 L470.33,185.69 L471.79,186.05 L473.25,186.40 L474.70,186.75 L476.15,187.08 L477.61,187.41 L479.06,187.73 L480.52,188.04 L481.97,188.35 L483.43,188.65 L484.88,188.94 L486.34,189.22 L487.79,189.50 L489.25,189.78 L490.70,190.05 L492.16,190.31 L493.62,190.57 L495.07,190.82 L496.52,191.07 L497.98,191.31 L499.44,191.55 L500.89,191.78 L502.34,192.01 L503.80,192.23 L505.25,192.45 L506.71,192.67 L508.16,192.88 L509.62,193.09 L511.07,193.30 L512.53,193.50 L513.99,193.69 L515.44,193.89 L516.89,194.08 L518.35,194.27 L519.80,194.45 L521.26,194.63 L522.71,194.81 L524.17,194.99 L525.62,195.16 L527.08,195.33 L528.53,195.50 L529.99,195.66 L531.44,195.82 L532.90,195.98 L534.36,196.14 L535.81,196.29 L537.26,196.44 L538.72,196.59 L540.17,196.74 L541.63,196.89 L543.09,197.03 L544.54,197.17 L546.00,197.31 L547.45,197.45 L548.90,197.58 L550.36,197.72 L551.82,197.85 L553.27,197.98 L554.73,198.11 L556.18,198.23 L557.63,198.36 L559.09,198.48 L560.54,198.60 L562.00,198.72 L563.45,198.84 L564.91,198.96 L566.37,199.07 L567.82,199.18 L569.27,199.30 L570.73,199.41 L572.18,199.52 L573.64,199.62 L575.10,199.73 L576.55,199.84 L578.00,199.94 L579.46,200.04 L580.91,200.14 L582.37,200.24 L583.83,200.34 L585.28,200.44 L586.74,200.54 L588.19,200.63 L589.64,200.73 L591.10,200.82 L592.55,200.91 L594.01,201.00 L595.46,201.09 L596.92,201.18 L598.38,201.27 L599.83,201.36 L601.28,201.45 L602.74,201.53 L604.19,201.62 L605.65,201.70 L607.11,201.78 L608.56,201.86 L610.01,201.94 L611.47,202.02 L612.92,202.10 L614.38,202.18 L615.84,202.26 L617.29,202.34 L618.75,202.41 L620.20,202.49 L621.65,202.56 L623.11,202.63 L624.57,202.71 L626.02,202.78 L627.48,202.85 L628.93,202.92 L630.38,202.99 L631.84,203.06 L633.29,203.13 L634.75,203.20 L636.20,203.27 L637.66,203.33 L639.12,203.40 L640.57,203.46 L642.02,203.53 L643.48,203.59 L644.93,203.66 L646.39,203.72 L647.85,203.78 L649.30,203.84 L650.75,203.91 L652.21,203.97 L653.66,204.03 L655.12,204.09 L656.58,204.15 L658.03,204.20 L659.49,204.26 L660.94,204.32 L662.39,204.38 L663.85,204.43 L665.31,204.49 L666.76,204.55 L668.21,204.60 L669.67,204.66 L671.12,204.71 L672.58,204.76 L674.03,204.82 L675.49,204.87 L676.94,204.92 L678.40,204.97" fill="none" stroke="#222" stroke-width="0.85"/>
<path d="M387.40,91.20 L387.46,91.41 L387.52,91.62 L387.57,91.84 L387.63,92.05 L387.69,92.26 L387.75,92.46 L387.81,92.67 L387.87,92.88 L387.92,93.09 L387.98,93.29 L388.04,93.50 L388.10,93.70 L388.16,93.91 L388.21,94.11 L388.27,94.31 L388.33,94.51 L388.39,94.72 L388.45,94.92 L388.51,95.12 L388.56,95.32 L388.62,95.51 L388.68,95.71 L388.74,95.91 L388.80,96.11 L388.85,96.30 L388.91,96.50 L388.97,96.69 L389.03,96.88 L389.09,97.08 L389.15,97.27 L389.20,97.46 L389.26,97.65 L389.32,97.84 L389.38,98.03 L389.44,98.22 L389.50,98.41 L389.55,98.60 L389.61,98.79 L389.67,98.98 L389.73,99.16 L389.79,99.35 L389.84,99.53 L389.90,99.72 L389.96,99.90 L390.02,100.08 L390.08,100.27 L390.14,100.45 L390.19,100.63 L390.25,100.81 L390.31,100.99 L390.37,101.17 L390.43,101.35 L390.48,101.53 L390.54,101.71 L390.60,101.88 L390.66,102.06 L390.72,102.24 L390.78,102.41 L390.83,102.59 L390.89,102.76 L390.95,102.94 L391.01,103.11 L391.07,103.28 L391.12,103.45 L391.18,103.63 L391.24,103.80 L391.30,103.97 L391.36,104.14 L391.42,104.31 L391.47,104.48 L391.53,104.64 L391.59,104.81 L391.65,104.98 L391.71,105.15 L391.76,105.31 L391.82,105.48 L391.88,105.64 L391.94,105.81 L392.00,105.97 L392.06,106.14 L392.11,106.30 L392.17,106.46 L392.23,106.62 L392.29,106.79 L392.35,106.95 L392.41,107.11 L392.46,107.27 L392.52,107.43 L392.58,107.59 L392.64,107.75 L392.70,107.90 L392.75,108.06 L392.81,108.22 L392.87,108.37 L392.93,108.53 L392.99,108.69 L393.05,108.84 L393.10,109.00 L393.16,109.15 L393.22,109.30 L393.51,110.07 L393.80,110.82 L394.09,111.55 L394.38,112.28 L394.67,113.00 L394.97,113.70 L395.26,114.40 L395.55,115.09 L395.84,115.76 L396.13,116.43 L396.42,117.08 L396.71,117.73 L397.00,118.36 L397.29,118.99 L397.58,119.61 L397.88,120.22 L398.17,120.82 L398.46,121.41 L398.75,122.00 L399.04,122.58 L399.33,123.14 L399.62,123.71 L399.91,124.26 L400.20,124.80 L400.50,125.34 L400.79,125.87 L401.08,126.40 L401.37,126.92 L401.66,127.43 L401.95,127.93 L402.24,128.43 L402.53,128.92 L402.82,129.40 L403.11,129.88 L403.40,130.35 L403.70,130.82 L403.99,131.28 L404.28,131.73 L404.57,132.18 L404.86,132.62 L405.15,133.06 L405.44,133.49 L405.73,133.92 L406.02,134.34 L406.31,134.76 L406.61,135.17 L406.90,135.58 L407.19,135.98 L407.48,136.38 L407.77,136.77 L408.06,137.16 L408.35,137.54 L408.64,137.92 L408.93,138.30 L409.23,138.67 L409.52,139.03 L409.81,139.40 L410.10,139.75 L410.39,140.11 L410.68,140.46 L410.97,140.80 L411.26,141.15 L411.55,141.48 L411.84,141.82 L412.13,142.15 L412.43,142.48 L412.72,142.80 L413.01,143.12 L413.30,143.44 L413.59,143.76 L413.88,144.07 L414.17,144.37 L414.46,144.68 L414.75,144.98 L415.05,145.28 L415.34,145.57 L415.63,145.86 L415.92,146.15 L416.21,146.44 L416.50,146.72 L417.95,148.10 L419.41,149.41 L420.87,150.66 L422.32,151.85 L423.77,152.99 L425.23,154.08 L426.69,155.13 L428.14,156.13 L429.59,157.09 L431.05,158.02 L432.50,158.91 L433.96,159.76 L435.41,160.59 L436.87,161.39 L438.32,162.16 L439.78,162.90 L441.23,163.62 L442.69,164.31 L444.14,164.99 L445.60,165.64 L447.05,166.27 L448.51,166.88 L449.96,167.48 L451.42,168.06 L452.88,168.62 L454.33,169.17 L455.78,169.70 L457.24,170.22 L458.69,170.73 L460.15,171.22 L461.60,171.70 L463.06,172.17 L464.51,172.62 L465.97,173.07 L467.42,173.50 L468.88,173.93 L470.33,174.35 L471.79,174.75 L473.25,175.15 L474.70,175.54 L476.15,175.92 L477.61,176.30 L479.06,176.66 L480.52,177.02 L481.97,177.37 L483.43,177.72 L484.88,178.06 L486.34,178.39 L487.79,178.71 L489.25,179.03 L490.70,179.35 L492.16,179.65 L493.62,179.96 L495.07,180.25 L496.52,180.54 L497.98,180.83 L499.44,181.11 L500.89,181.39 L502.34,181.66 L503.80,181.93" fill="none" stroke="#222" stroke-width="0.85" stroke-dasharray="4.1 4.3" stroke-dashoffset="2.40"/>
<path d="M503.80,181.93 L503.80,181.93 L505.25,182.19 L506.71,182.45 L508.16,182.71 L509.62,182.96 L511.07,183.21 L512.53,183.45 L513.99,183.69 L515.44,183.93 L516.89,184.16 L518.35,184.39 L519.80,184.62 L521.26,184.84 L522.71,185.06 L524.17,185.28 L525.62,185.49 L527.08,185.70 L528.53,185.91 L529.99,186.11 L531.44,186.32 L532.90,186.52 L534.36,186.71 L535.81,186.91 L537.26,187.10 L538.72,187.29 L540.17,187.48 L541.63,187.66 L543.09,187.84 L544.54,188.02 L546.00,188.20 L547.45,188.37 L548.90,188.55 L550.36,188.72 L551.82,188.89 L553.27,189.05 L554.73,189.22 L556.18,189.38 L557.63,189.54 L559.09,189.70 L560.54,189.86 L562.00,190.02 L563.45,190.17 L564.91,190.32 L566.37,190.47 L567.82,190.62 L569.27,190.77 L570.73,190.91 L572.18,191.06 L573.64,191.20 L575.10,191.34 L576.55,191.48 L578.00,191.62 L579.46,191.76 L580.91,191.89 L582.37,192.02 L583.83,192.16 L585.28,192.29 L586.74,192.42 L588.19,192.54 L589.64,192.67 L591.10,192.80 L592.55,192.92 L594.01,193.04 L595.46,193.17 L596.92,193.29 L598.38,193.41 L599.83,193.52 L601.28,193.64 L602.74,193.76 L604.19,193.87 L605.65,193.99 L607.11,194.10 L608.56,194.21 L610.01,194.32 L611.47,194.43 L612.92,194.54 L614.38,194.65 L615.84,194.75 L617.29,194.86 L618.75,194.96 L620.20,195.07" fill="none" stroke="#222" stroke-width="0.85" stroke-dasharray="4.1 4.3" stroke-dashoffset="0.00"/>
<path d="M620.20,195.07 L620.20,195.07 L621.65,195.17 L623.11,195.27 L624.57,195.37 L626.02,195.47 L627.48,195.57 L628.93,195.67 L630.38,195.77 L631.84,195.86 L633.29,195.96 L634.75,196.06 L636.20,196.15 L637.66,196.24 L639.12,196.34 L640.57,196.43 L642.02,196.52 L643.48,196.61 L644.93,196.70 L646.39,196.79 L647.85,196.87 L649.30,196.96 L650.75,197.05 L652.21,197.13 L653.66,197.22 L655.12,197.30 L656.58,197.39 L658.03,197.47 L659.49,197.55 L660.94,197.64 L662.39,197.72 L663.85,197.80 L665.31,197.88 L666.76,197.96 L668.21,198.03 L669.67,198.11 L671.12,198.19 L672.58,198.27 L674.03,198.34 L675.49,198.42 L676.94,198.49 L678.40,198.57" fill="none" stroke="#222" stroke-width="0.85" stroke-dasharray="4.1 4.3" stroke-dashoffset="0.00"/>
<path d="M387.40,91.20 L387.46,91.28 L387.52,91.35 L387.57,91.43 L387.63,91.51 L387.69,91.58 L387.75,91.66 L387.81,91.74 L387.87,91.81 L387.92,91.89 L387.98,91.97 L388.04,92.04 L388.10,92.12 L388.16,92.19 L388.21,92.27 L388.27,92.35 L388.33,92.42 L388.39,92.50 L388.45,92.57 L388.51,92.65 L388.56,92.72 L388.62,92.80 L388.68,92.87 L388.74,92.95 L388.80,93.02 L388.85,93.10 L388.91,93.17 L388.97,93.25 L389.03,93.32 L389.09,93.39 L389.15,93.47 L389.20,93.54 L389.26,93.62 L389.32,93.69 L389.38,93.76 L389.44,93.84 L389.50,93.91 L389.55,93.98 L389.61,94.06 L389.67,94.13 L389.73,94.20 L389.79,94.28 L389.84,94.35 L389.90,94.42 L389.96,94.50 L390.02,94.57 L390.08,94.64 L390.14,94.71 L390.19,94.79 L390.25,94.86 L390.31,94.93 L390.37,95.00 L390.43,95.07 L390.48,95.15 L390.54,95.22 L390.60,95.29 L390.66,95.36 L390.72,95.43 L390.78,95.50 L390.83,95.57 L390.89,95.65 L390.95,95.72 L391.01,95.79 L391.07,95.86 L391.12,95.93 L391.18,96.00 L391.24,96.07 L391.30,96.14 L391.36,96.21 L391.42,96.28 L391.47,96.35 L391.53,96.42 L391.59,96.49 L391.65,96.56 L391.71,96.63 L391.76,96.70 L391.82,96.77 L391.88,96.84 L391.94,96.91 L392.00,96.98 L392.06,97.05 L392.11,97.12 L392.17,97.19 L392.23,97.26 L392.29,97.32 L392.35,97.39 L392.41,97.46 L392.46,97.53 L392.52,97.60 L392.58,97.67 L392.64,97.74 L392.70,97.80 L392.75,97.87 L392.81,97.94 L392.87,98.01 L392.93,98.08 L392.99,98.14 L393.05,98.21 L393.10,98.28 L393.16,98.35 L393.22,98.41 L393.51,98.75 L393.80,99.08 L394.09,99.42 L394.38,99.75 L394.67,100.07 L394.97,100.40 L395.26,100.72 L395.55,101.04 L395.84,101.36 L396.13,101.68 L396.42,101.99 L396.71,102.30 L397.00,102.62 L397.29,102.92 L397.58,103.23 L397.88,103.54 L398.17,103.84 L398.46,104.14 L398.75,104.44 L399.04,104.74 L399.33,105.03 L399.62,105.33 L399.91,105.62 L400.20,105.91 L400.50,106.20 L400.79,106.48 L401.08,106.77 L401.37,107.05 L401.66,107.33 L401.95,107.61 L402.24,107.89 L402.53,108.17 L402.82,108.44 L403.11,108.72 L403.40,108.99 L403.70,109.26 L403.99,109.53 L404.28,109.79 L404.57,110.06 L404.86,110.32 L405.15,110.58 L405.44,110.84 L405.73,111.10 L406.02,111.36 L406.31,111.62 L406.61,111.87 L406.90,112.12 L407.19,112.37 L407.48,112.62 L407.77,112.87 L408.06,113.12 L408.35,113.37 L408.64,113.61 L408.93,113.85 L409.23,114.10 L409.52,114.34 L409.81,114.58 L410.10,114.81 L410.39,115.05 L410.68,115.28 L410.97,115.52 L411.26,115.75 L411.55,115.98 L411.84,116.21 L412.13,116.44 L412.43,116.67 L412.72,116.89 L413.01,117.12 L413.30,117.34 L413.59,117.57 L413.88,117.79 L414.17,118.01 L414.46,118.23 L414.75,118.44 L415.05,118.66 L415.34,118.88 L415.63,119.09 L415.92,119.30 L416.21,119.52 L416.50,119.73 L417.95,120.76 L419.41,121.78 L420.87,122.76 L422.32,123.72 L423.77,124.66 L425.23,125.57 L426.69,126.47 L428.14,127.34 L429.59,128.19 L431.05,129.02 L432.50,129.83 L433.96,130.62 L435.41,131.40 L436.87,132.16 L438.32,132.90 L439.78,133.62 L441.23,134.33 L442.69,135.03 L444.14,135.71 L445.60,136.38 L447.05,137.03 L448.51,137.67 L449.96,138.29 L451.42,138.91 L452.88,139.51 L454.33,140.10 L455.78,140.68 L457.24,141.25 L458.69,141.81 L460.15,142.35 L461.60,142.89 L463.06,143.42 L464.51,143.93 L465.97,144.44 L467.42,144.94 L468.88,145.43 L470.33,145.92 L471.79,146.39 L473.25,146.86 L474.70,147.31 L476.15,147.77 L477.61,148.21 L479.06,148.64 L480.52,149.07 L481.97,149.50 L483.43,149.91 L484.88,150.32 L486.34,150.72 L487.79,151.12 L489.25,151.51 L490.70,151.90 L492.16,152.27 L493.62,152.65 L495.07,153.02 L496.52,153.38 L497.98,153.74 L499.44,154.09 L500.89,154.44 L502.34,154.78 L503.80,155.12" fill="none" stroke="#222" stroke-width="0.85" stroke-dasharray="7.3 8.6 0.8 8.15" stroke-dashoffset="2.45"/>
<path d="M503.80,155.12 L503.80,155.12 L505.25,155.45 L506.71,155.78 L508.16,156.10 L509.62,156.42 L511.07,156.74 L512.53,157.05 L513.99,157.36 L515.44,157.66 L516.89,157.96 L518.35,158.26 L519.80,158.55 L521.26,158.84 L522.71,159.12 L524.17,159.41 L525.62,159.68 L527.08,159.96 L528.53,160.23 L529.99,160.50 L531.44,160.76 L532.90,161.03 L534.36,161.29 L535.81,161.54 L537.26,161.80 L538.72,162.05 L540.17,162.29 L541.63,162.54 L543.09,162.78 L544.54,163.02 L546.00,163.26 L547.45,163.49 L548.90,163.72 L550.36,163.95 L551.82,164.18 L553.27,164.41 L554.73,164.63 L556.18,164.85 L557.63,165.07 L559.09,165.28 L560.54,165.50 L562.00,165.71 L563.45,165.92 L564.91,166.13 L566.37,166.33 L567.82,166.54 L569.27,166.74 L570.73,166.94 L572.18,167.14 L573.64,167.33 L575.10,167.53 L576.55,167.72 L578.00,167.91 L579.46,168.10 L580.91,168.29 L582.37,168.47 L583.83,168.66 L585.28,168.84 L586.74,169.02 L588.19,169.20 L589.64,169.38 L591.10,169.55 L592.55,169.73 L594.01,169.90 L595.46,170.08 L596.92,170.25 L598.38,170.42 L599.83,170.58 L601.28,170.75 L602.74,170.91 L604.19,171.08 L605.65,171.24 L607.11,171.40 L608.56,171.56 L610.01,171.72 L611.47,171.88 L612.92,172.03 L614.38,172.19 L615.84,172.34 L617.29,172.50 L618.75,172.65 L620.20,172.80" fill="none" stroke="#222" stroke-width="0.85" stroke-dasharray="7.8 9.1 0.8 8.7" stroke-dashoffset="26.10"/>
<path d="M620.20,172.80 L620.20,172.80 L621.65,172.95 L623.11,173.10 L624.57,173.24 L626.02,173.39 L627.48,173.53 L628.93,173.68 L630.38,173.82 L631.84,173.96 L633.29,174.10 L634.75,174.25 L636.20,174.38 L637.66,174.52 L639.12,174.66 L640.57,174.80 L642.02,174.93 L643.48,175.07 L644.93,175.20 L646.39,175.33 L647.85,175.46 L649.30,175.59 L650.75,175.72 L652.21,175.85 L653.66,175.98 L655.12,176.11 L656.58,176.24 L658.03,176.36 L659.49,176.49 L660.94,176.61 L662.39,176.74 L663.85,176.86 L665.31,176.98 L666.76,177.10 L668.21,177.22 L669.67,177.34 L671.12,177.46 L672.58,177.58 L674.03,177.70 L675.49,177.82 L676.94,177.93 L678.40,178.05" fill="none" stroke="#222" stroke-width="0.85" stroke-dasharray="7.8 9.1 0.8 8.7" stroke-dashoffset="26.10"/>
<path d="M387.40,91.20 L387.46,91.25 L387.52,91.29 L387.57,91.34 L387.63,91.38 L387.69,91.42 L387.75,91.46 L387.81,91.50 L387.87,91.54 L387.92,91.58 L387.98,91.62 L388.04,91.66 L388.10,91.70 L388.16,91.74 L388.21,91.77 L388.27,91.81 L388.33,91.84 L388.39,91.88 L388.45,91.91 L388.51,91.95 L388.56,91.98 L388.62,92.02 L388.68,92.05 L388.74,92.08 L388.80,92.12 L388.85,92.15 L388.91,92.18 L388.97,92.21 L389.03,92.25 L389.09,92.28 L389.15,92.31 L389.20,92.34 L389.26,92.37 L389.32,92.40 L389.38,92.43 L389.44,92.46 L389.50,92.49 L389.55,92.52 L389.61,92.55 L389.67,92.58 L389.73,92.61 L389.79,92.64 L389.84,92.67 L389.90,92.70 L389.96,92.73 L390.02,92.76 L390.08,92.79 L390.14,92.82 L390.19,92.84 L390.25,92.87 L390.31,92.90 L390.37,92.93 L390.43,92.96 L390.48,92.99 L390.54,93.01 L390.60,93.04 L390.66,93.07 L390.72,93.10 L390.78,93.12 L390.83,93.15 L390.89,93.18 L390.95,93.20 L391.01,93.23 L391.07,93.26 L391.12,93.29 L391.18,93.31 L391.24,93.34 L391.30,93.37 L391.36,93.39 L391.42,93.42 L391.47,93.44 L391.53,93.47 L391.59,93.50 L391.65,93.52 L391.71,93.55 L391.76,93.58 L391.82,93.60 L391.88,93.63 L391.94,93.65 L392.00,93.68 L392.06,93.70 L392.11,93.73 L392.17,93.76 L392.23,93.78 L392.29,93.81 L392.35,93.83 L392.41,93.86 L392.46,93.88 L392.52,93.91 L392.58,93.93 L392.64,93.96 L392.70,93.98 L392.75,94.01 L392.81,94.03 L392.87,94.06 L392.93,94.08 L392.99,94.11 L393.05,94.13 L393.10,94.16 L393.16,94.18 L393.22,94.21 L393.51,94.33 L393.80,94.45 L394.09,94.57 L394.38,94.69 L394.67,94.81 L394.97,94.93 L395.26,95.05 L395.55,95.16 L395.84,95.28 L396.13,95.39 L396.42,95.51 L396.71,95.62 L397.00,95.74 L397.29,95.85 L397.58,95.96 L397.88,96.07 L398.17,96.18 L398.46,96.29 L398.75,96.41 L399.04,96.52 L399.33,96.62 L399.62,96.73 L399.91,96.84 L400.20,96.95 L400.50,97.06 L400.79,97.17 L401.08,97.27 L401.37,97.38 L401.66,97.49 L401.95,97.59 L402.24,97.70 L402.53,97.80 L402.82,97.91 L403.11,98.01 L403.40,98.12 L403.70,98.22 L403.99,98.33 L404.28,98.43 L404.57,98.54 L404.86,98.64 L405.15,98.74 L405.44,98.84 L405.73,98.95 L406.02,99.05 L406.31,99.15 L406.61,99.25 L406.90,99.35 L407.19,99.45 L407.48,99.55 L407.77,99.66 L408.06,99.76 L408.35,99.86 L408.64,99.96 L408.93,100.06 L409.23,100.15 L409.52,100.25 L409.81,100.35 L410.10,100.45 L410.39,100.55 L410.68,100.65 L410.97,100.75 L411.26,100.84 L411.55,100.94 L411.84,101.04 L412.13,101.14 L412.43,101.23 L412.72,101.33 L413.01,101.43 L413.30,101.52 L413.59,101.62 L413.88,101.72 L414.17,101.81 L414.46,101.91 L414.75,102.00 L415.05,102.10 L415.34,102.19 L415.63,102.29 L415.92,102.38 L416.21,102.48 L416.50,102.57 L417.95,103.04 L419.41,103.51 L420.87,103.97 L422.32,104.42 L423.77,104.87 L425.23,105.32 L426.69,105.77 L428.14,106.21 L429.59,106.64 L431.05,107.08 L432.50,107.51 L433.96,107.93 L435.41,108.35 L436.87,108.77 L438.32,109.19 L439.78,109.60 L441.23,110.01 L442.69,110.41 L444.14,110.82 L445.60,111.22 L447.05,111.61 L448.51,112.00 L449.96,112.39 L451.42,112.78 L452.88,113.17 L454.33,113.55 L455.78,113.92 L457.24,114.30 L458.69,114.67 L460.15,115.04 L461.60,115.41 L463.06,115.77 L464.51,116.13 L465.97,116.49 L467.42,116.85 L468.88,117.20 L470.33,117.55 L471.79,117.90 L473.25,118.25 L474.70,118.59 L476.15,118.93 L477.61,119.27 L479.06,119.60 L480.52,119.94 L481.97,120.27 L483.43,120.60 L484.88,120.92 L486.34,121.25 L487.79,121.57 L489.25,121.89 L490.70,122.20 L492.16,122.52 L493.62,122.83 L495.07,123.14 L496.52,123.45 L497.98,123.75 L499.44,124.06 L500.89,124.36 L502.34,124.66 L503.80,124.95 L505.25,125.25 L506.71,125.54 L508.16,125.83 L509.62,126.12 L511.07,126.41 L512.53,126.69 L513.99,126.98 L515.44,127.26 L516.89,127.53 L518.35,127.81 L519.80,128.09 L521.26,128.36 L522.71,128.63 L524.17,128.90 L525.62,129.17 L527.08,129.43 L528.53,129.70 L529.99,129.96 L531.44,130.22 L532.90,130.48 L534.36,130.73 L535.81,130.99 L537.26,131.24 L538.72,131.49 L540.17,131.74 L541.63,131.99 L543.09,132.24 L544.54,132.48 L546.00,132.72 L547.45,132.97 L548.90,133.20 L550.36,133.44 L551.82,133.68 L553.27,133.91 L554.73,134.15 L556.18,134.38 L557.63,134.61 L559.09,134.84 L560.54,135.06 L562.00,135.29 L563.45,135.51 L564.91,135.74 L566.37,135.96 L567.82,136.18 L569.27,136.40 L570.73,136.61 L572.18,136.83 L573.64,137.04 L575.10,137.25 L576.55,137.46 L578.00,137.67 L579.46,137.88 L580.91,138.09 L582.37,138.29 L583.83,138.50 L585.28,138.70 L586.74,138.90 L588.19,139.10 L589.64,139.30 L591.10,139.50 L592.55,139.69 L594.01,139.89 L595.46,140.08 L596.92,140.28 L598.38,140.47 L599.83,140.66 L601.28,140.85 L602.74,141.03 L604.19,141.22 L605.65,141.40 L607.11,141.59 L608.56,141.77 L610.01,141.95 L611.47,142.13 L612.92,142.31 L614.38,142.49 L615.84,142.67 L617.29,142.84 L618.75,143.02 L620.20,143.19 L621.65,143.36 L623.11,143.53 L624.57,143.70 L626.02,143.87 L627.48,144.04 L628.93,144.21 L630.38,144.37 L631.84,144.54 L633.29,144.70 L634.75,144.86 L636.20,145.03 L637.66,145.19 L639.12,145.35 L640.57,145.50 L642.02,145.66 L643.48,145.82 L644.93,145.97 L646.39,146.13 L647.85,146.28 L649.30,146.43 L650.75,146.59 L652.21,146.74 L653.66,146.89 L655.12,147.04 L656.58,147.18 L658.03,147.33 L659.49,147.48 L660.94,147.62 L662.39,147.77 L663.85,147.91 L665.31,148.05 L666.76,148.19 L668.21,148.33 L669.67,148.47 L671.12,148.61 L672.58,148.75 L674.03,148.89 L675.49,149.03 L676.94,149.16 L678.40,149.30" fill="none" stroke="#333" stroke-width="0.8"/>
<ellipse cx="387.40" cy="91.20" rx="1.32" ry="1.09" fill="#000"/>
<ellipse cx="404.86" cy="98.64" rx="1.32" ry="1.09" fill="#000"/>
<ellipse cx="422.32" cy="104.42" rx="1.32" ry="1.09" fill="#000"/>
<ellipse cx="439.78" cy="109.60" rx="1.32" ry="1.09" fill="#000"/>
<ellipse cx="457.24" cy="114.30" rx="1.32" ry="1.09" fill="#000"/>
<ellipse cx="474.70" cy="118.59" rx="1.32" ry="1.09" fill="#000"/>
<ellipse cx="492.16" cy="122.52" rx="1.32" ry="1.09" fill="#000"/>
<ellipse cx="509.62" cy="126.12" rx="1.32" ry="1.09" fill="#000"/>
<ellipse cx="527.08" cy="129.43" rx="1.32" ry="1.09" fill="#000"/>
<ellipse cx="544.54" cy="132.48" rx="1.32" ry="1.09" fill="#000"/>
<ellipse cx="562.00" cy="135.29" rx="1.32" ry="1.09" fill="#000"/>
<ellipse cx="579.46" cy="137.88" rx="1.32" ry="1.09" fill="#000"/>
<ellipse cx="596.92" cy="140.28" rx="1.32" ry="1.09" fill="#000"/>
<ellipse cx="614.38" cy="142.49" rx="1.32" ry="1.09" fill="#000"/>
<ellipse cx="631.84" cy="144.54" rx="1.32" ry="1.09" fill="#000"/>
<ellipse cx="649.30" cy="146.43" rx="1.32" ry="1.09" fill="#000"/>
<ellipse cx="666.76" cy="148.19" rx="1.32" ry="1.09" fill="#000"/>
<path d="M387.40,91.20 L387.46,91.22 L387.52,91.24 L387.57,91.26 L387.63,91.28 L387.69,91.30 L387.75,91.32 L387.81,91.34 L387.87,91.36 L387.92,91.38 L387.98,91.39 L388.04,91.41 L388.10,91.43 L388.16,91.45 L388.21,91.47 L388.27,91.49 L388.33,91.51 L388.39,91.53 L388.45,91.54 L388.51,91.56 L388.56,91.58 L388.62,91.60 L388.68,91.62 L388.74,91.64 L388.80,91.65 L388.85,91.67 L388.91,91.69 L388.97,91.71 L389.03,91.73 L389.09,91.74 L389.15,91.76 L389.20,91.78 L389.26,91.80 L389.32,91.82 L389.38,91.83 L389.44,91.85 L389.50,91.87 L389.55,91.89 L389.61,91.90 L389.67,91.92 L389.73,91.94 L389.79,91.95 L389.84,91.97 L389.90,91.99 L389.96,92.01 L390.02,92.02 L390.08,92.04 L390.14,92.06 L390.19,92.07 L390.25,92.09 L390.31,92.11 L390.37,92.13 L390.43,92.14 L390.48,92.16 L390.54,92.18 L390.60,92.19 L390.66,92.21 L390.72,92.23 L390.78,92.24 L390.83,92.26 L390.89,92.27 L390.95,92.29 L391.01,92.31 L391.07,92.32 L391.12,92.34 L391.18,92.36 L391.24,92.37 L391.30,92.39 L391.36,92.41 L391.42,92.42 L391.47,92.44 L391.53,92.45 L391.59,92.47 L391.65,92.49 L391.71,92.50 L391.76,92.52 L391.82,92.53 L391.88,92.55 L391.94,92.57 L392.00,92.58 L392.06,92.60 L392.11,92.61 L392.17,92.63 L392.23,92.64 L392.29,92.66 L392.35,92.68 L392.41,92.69 L392.46,92.71 L392.52,92.72 L392.58,92.74 L392.64,92.75 L392.70,92.77 L392.75,92.79 L392.81,92.80 L392.87,92.82 L392.93,92.83 L392.99,92.85 L393.05,92.86 L393.10,92.88 L393.16,92.89 L393.22,92.91 L393.51,92.99 L393.80,93.06 L394.09,93.14 L394.38,93.21 L394.67,93.29 L394.97,93.36 L395.26,93.43 L395.55,93.51 L395.84,93.58 L396.13,93.65 L396.42,93.72 L396.71,93.79 L397.00,93.86 L397.29,93.94 L397.58,94.01 L397.88,94.08 L398.17,94.15 L398.46,94.22 L398.75,94.29 L399.04,94.36 L399.33,94.43 L399.62,94.49 L399.91,94.56 L400.20,94.63 L400.50,94.70 L400.79,94.77 L401.08,94.84 L401.37,94.90 L401.66,94.97 L401.95,95.04 L402.24,95.11 L402.53,95.17 L402.82,95.24 L403.11,95.31 L403.40,95.37 L403.70,95.44 L403.99,95.50 L404.28,95.57 L404.57,95.64 L404.86,95.70 L405.15,95.77 L405.44,95.83 L405.73,95.90 L406.02,95.96 L406.31,96.03 L406.61,96.09 L406.90,96.16 L407.19,96.22 L407.48,96.29 L407.77,96.35 L408.06,96.42 L408.35,96.48 L408.64,96.55 L408.93,96.61 L409.23,96.67 L409.52,96.74 L409.81,96.80 L410.10,96.87 L410.39,96.93 L410.68,96.99 L410.97,97.06 L411.26,97.12 L411.55,97.18 L411.84,97.25 L412.13,97.31 L412.43,97.37 L412.72,97.44 L413.01,97.50 L413.30,97.56 L413.59,97.62 L413.88,97.69 L414.17,97.75 L414.46,97.81 L414.75,97.87 L415.05,97.93 L415.34,98.00 L415.63,98.06 L415.92,98.12 L416.21,98.18 L416.50,98.24 L417.95,98.55 L419.41,98.86 L420.87,99.16 L422.32,99.46 L423.77,99.76 L425.23,100.06 L426.69,100.35 L428.14,100.65 L429.59,100.94 L431.05,101.23 L432.50,101.52 L433.96,101.80 L435.41,102.09 L436.87,102.37 L438.32,102.66 L439.78,102.94 L441.23,103.21 L442.69,103.49 L444.14,103.77 L445.60,104.04 L447.05,104.31 L448.51,104.58 L449.96,104.85 L451.42,105.12 L452.88,105.39 L454.33,105.65 L455.78,105.92 L457.24,106.18 L458.69,106.44 L460.15,106.70 L461.60,106.95 L463.06,107.21 L464.51,107.47 L465.97,107.72 L467.42,107.97 L468.88,108.22 L470.33,108.47 L471.79,108.72 L473.25,108.97 L474.70,109.21 L476.15,109.45 L477.61,109.70 L479.06,109.94 L480.52,110.18 L481.97,110.42 L483.43,110.66 L484.88,110.89 L486.34,111.13 L487.79,111.36 L489.25,111.59 L490.70,111.83 L492.16,112.06 L493.62,112.28 L495.07,112.51 L496.52,112.74 L497.98,112.97 L499.44,113.19 L500.89,113.41 L502.34,113.64 L503.80,113.86 L505.25,114.08 L506.71,114.30 L508.16,114.51 L509.62,114.73 L511.07,114.95 L512.53,115.16 L513.99,115.37 L515.44,115.59 L516.89,115.80 L518.35,116.01 L519.80,116.22 L521.26,116.42 L522.71,116.63 L524.17,116.84 L525.62,117.04 L527.08,117.25 L528.53,117.45 L529.99,117.65 L531.44,117.85 L532.90,118.05 L534.36,118.25 L535.81,118.45 L537.26,118.65 L538.72,118.85 L540.17,119.04 L541.63,119.24 L543.09,119.43 L544.54,119.62 L546.00,119.81 L547.45,120.00 L548.90,120.19 L550.36,120.38 L551.82,120.57 L553.27,120.76 L554.73,120.95 L556.18,121.13 L557.63,121.32 L559.09,121.50 L560.54,121.68 L562.00,121.86 L563.45,122.05 L564.91,122.23 L566.37,122.41 L567.82,122.58 L569.27,122.76 L570.73,122.94 L572.18,123.12 L573.64,123.29 L575.10,123.47 L576.55,123.64 L578.00,123.81 L579.46,123.99 L580.91,124.16 L582.37,124.33 L583.83,124.50 L585.28,124.67 L586.74,124.84 L588.19,125.01 L589.64,125.17 L591.10,125.34 L592.55,125.50 L594.01,125.67 L595.46,125.83 L596.92,126.00 L598.38,126.16 L599.83,126.32 L601.28,126.48 L602.74,126.64 L604.19,126.80 L605.65,126.96 L607.11,127.12 L608.56,127.28 L610.01,127.44 L611.47,127.59 L612.92,127.75 L614.38,127.91 L615.84,128.06 L617.29,128.21 L618.75,128.37 L620.20,128.52 L621.65,128.67 L623.11,128.82 L624.57,128.97 L626.02,129.12 L627.48,129.27 L628.93,129.42 L630.38,129.57 L631.84,129.72 L633.29,129.86 L634.75,130.01 L636.20,130.16 L637.66,130.30 L639.12,130.45 L640.57,130.59 L642.02,130.73 L643.48,130.88 L644.93,131.02 L646.39,131.16 L647.85,131.30 L649.30,131.44 L650.75,131.58 L652.21,131.72 L653.66,131.86 L655.12,132.00 L656.58,132.13 L658.03,132.27 L659.49,132.41 L660.94,132.54 L662.39,132.68 L663.85,132.81 L665.31,132.95 L666.76,133.08 L668.21,133.22 L669.67,133.35 L671.12,133.48 L672.58,133.61 L674.03,133.74 L675.49,133.87 L676.94,134.00 L678.40,134.13" fill="none" stroke="#333" stroke-width="0.8" stroke-dasharray="4.2 4.6" stroke-dashoffset="6.50"/>
<ellipse cx="387.40" cy="91.20" rx="1.03" ry="0.85" fill="#000"/>
<ellipse cx="404.86" cy="95.70" rx="1.03" ry="0.85" fill="#000"/>
<ellipse cx="422.32" cy="99.46" rx="1.03" ry="0.85" fill="#000"/>
<ellipse cx="439.78" cy="102.94" rx="1.03" ry="0.85" fill="#000"/>
<ellipse cx="457.24" cy="106.18" rx="1.03" ry="0.85" fill="#000"/>
<ellipse cx="474.70" cy="109.21" rx="1.03" ry="0.85" fill="#000"/>
<ellipse cx="492.16" cy="112.06" rx="1.03" ry="0.85" fill="#000"/>
<ellipse cx="509.62" cy="114.73" rx="1.03" ry="0.85" fill="#000"/>
<ellipse cx="527.08" cy="117.25" rx="1.03" ry="0.85" fill="#000"/>
<ellipse cx="544.54" cy="119.62" rx="1.03" ry="0.85" fill="#000"/>
<ellipse cx="562.00" cy="121.86" rx="1.03" ry="0.85" fill="#000"/>
<ellipse cx="579.46" cy="123.99" rx="1.03" ry="0.85" fill="#000"/>
<ellipse cx="596.92" cy="126.00" rx="1.03" ry="0.85" fill="#000"/>
<ellipse cx="614.38" cy="127.91" rx="1.03" ry="0.85" fill="#000"/>
<ellipse cx="631.84" cy="129.72" rx="1.03" ry="0.85" fill="#000"/>
<ellipse cx="649.30" cy="131.44" rx="1.03" ry="0.85" fill="#000"/>
<ellipse cx="666.76" cy="133.08" rx="1.03" ry="0.85" fill="#000"/>
<path d="M387.40,91.20 L387.46,91.20 L387.52,91.21 L387.57,91.21 L387.63,91.22 L387.69,91.22 L387.75,91.23 L387.81,91.23 L387.87,91.24 L387.92,91.24 L387.98,91.25 L388.04,91.25 L388.10,91.26 L388.16,91.26 L388.21,91.27 L388.27,91.27 L388.33,91.28 L388.39,91.28 L388.45,91.29 L388.51,91.29 L388.56,91.29 L388.62,91.30 L388.68,91.30 L388.74,91.31 L388.80,91.31 L388.85,91.32 L388.91,91.32 L388.97,91.33 L389.03,91.33 L389.09,91.34 L389.15,91.34 L389.20,91.35 L389.26,91.35 L389.32,91.36 L389.38,91.36 L389.44,91.37 L389.50,91.37 L389.55,91.38 L389.61,91.38 L389.67,91.38 L389.73,91.39 L389.79,91.39 L389.84,91.40 L389.90,91.40 L389.96,91.41 L390.02,91.41 L390.08,91.42 L390.14,91.42 L390.19,91.43 L390.25,91.43 L390.31,91.44 L390.37,91.44 L390.43,91.45 L390.48,91.45 L390.54,91.46 L390.60,91.46 L390.66,91.46 L390.72,91.47 L390.78,91.47 L390.83,91.48 L390.89,91.48 L390.95,91.49 L391.01,91.49 L391.07,91.50 L391.12,91.50 L391.18,91.51 L391.24,91.51 L391.30,91.52 L391.36,91.52 L391.42,91.53 L391.47,91.53 L391.53,91.54 L391.59,91.54 L391.65,91.55 L391.71,91.55 L391.76,91.55 L391.82,91.56 L391.88,91.56 L391.94,91.57 L392.00,91.57 L392.06,91.58 L392.11,91.58 L392.17,91.59 L392.23,91.59 L392.29,91.60 L392.35,91.60 L392.41,91.61 L392.46,91.61 L392.52,91.62 L392.58,91.62 L392.64,91.63 L392.70,91.63 L392.75,91.63 L392.81,91.64 L392.87,91.64 L392.93,91.65 L392.99,91.65 L393.05,91.66 L393.10,91.66 L393.16,91.67 L393.22,91.67 L393.51,91.70 L393.80,91.72 L394.09,91.74 L394.38,91.77 L394.67,91.79 L394.97,91.81 L395.26,91.84 L395.55,91.86 L395.84,91.88 L396.13,91.91 L396.42,91.93 L396.71,91.95 L397.00,91.98 L397.29,92.00 L397.58,92.02 L397.88,92.05 L398.17,92.07 L398.46,92.09 L398.75,92.12 L399.04,92.14 L399.33,92.16 L399.62,92.18 L399.91,92.21 L400.20,92.23 L400.50,92.25 L400.79,92.28 L401.08,92.30 L401.37,92.32 L401.66,92.35 L401.95,92.37 L402.24,92.39 L402.53,92.42 L402.82,92.44 L403.11,92.46 L403.40,92.48 L403.70,92.51 L403.99,92.53 L404.28,92.55 L404.57,92.58 L404.86,92.60 L405.15,92.62 L405.44,92.65 L405.73,92.67 L406.02,92.69 L406.31,92.71 L406.61,92.74 L406.90,92.76 L407.19,92.78 L407.48,92.81 L407.77,92.83 L408.06,92.85 L408.35,92.87 L408.64,92.90 L408.93,92.92 L409.23,92.94 L409.52,92.96 L409.81,92.99 L410.10,93.01 L410.39,93.03 L410.68,93.06 L410.97,93.08 L411.26,93.10 L411.55,93.12 L411.84,93.15 L412.13,93.17 L412.43,93.19 L412.72,93.21 L413.01,93.24 L413.30,93.26 L413.59,93.28 L413.88,93.30 L414.17,93.33 L414.46,93.35 L414.75,93.37 L415.05,93.39 L415.34,93.42 L415.63,93.44 L415.92,93.46 L416.21,93.48 L416.50,93.51 L417.95,93.62 L419.41,93.73 L420.87,93.84 L422.32,93.95 L423.77,94.06 L425.23,94.17 L426.69,94.28 L428.14,94.39 L429.59,94.50 L431.05,94.61 L432.50,94.72 L433.96,94.83 L435.41,94.94 L436.87,95.04 L438.32,95.15 L439.78,95.26 L441.23,95.36 L442.69,95.47 L444.14,95.58 L445.60,95.68 L447.05,95.79 L448.51,95.89 L449.96,96.00 L451.42,96.10 L452.88,96.21 L454.33,96.31 L455.78,96.42 L457.24,96.52 L458.69,96.62 L460.15,96.73 L461.60,96.83 L463.06,96.93 L464.51,97.03 L465.97,97.13 L467.42,97.24 L468.88,97.34 L470.33,97.44 L471.79,97.54 L473.25,97.64 L474.70,97.74 L476.15,97.84 L477.61,97.94 L479.06,98.04 L480.52,98.14 L481.97,98.23 L483.43,98.33 L484.88,98.43 L486.34,98.53 L487.79,98.63 L489.25,98.72 L490.70,98.82 L492.16,98.92 L493.62,99.01 L495.07,99.11 L496.52,99.20 L497.98,99.30 L499.44,99.39 L500.89,99.49 L502.34,99.58 L503.80,99.68" fill="none" stroke="#333" stroke-width="0.8" stroke-dasharray="7.8 9.1 0.8 8.7" stroke-dashoffset="23.60"/>
<path d="M503.80,99.68 L503.80,99.68 L505.25,99.77 L506.71,99.87 L508.16,99.96 L509.62,100.05 L511.07,100.15 L512.53,100.24 L513.99,100.33 L515.44,100.42 L516.89,100.52 L518.35,100.61 L519.80,100.70 L521.26,100.79 L522.71,100.88 L524.17,100.97 L525.62,101.06 L527.08,101.15 L528.53,101.24 L529.99,101.33 L531.44,101.42 L532.90,101.51 L534.36,101.60 L535.81,101.69 L537.26,101.78 L538.72,101.87 L540.17,101.95 L541.63,102.04 L543.09,102.13 L544.54,102.22 L546.00,102.30 L547.45,102.39 L548.90,102.48 L550.36,102.56 L551.82,102.65 L553.27,102.74 L554.73,102.82 L556.18,102.91 L557.63,102.99 L559.09,103.08 L560.54,103.16 L562.00,103.24 L563.45,103.33 L564.91,103.41 L566.37,103.50 L567.82,103.58 L569.27,103.66 L570.73,103.75 L572.18,103.83 L573.64,103.91 L575.10,103.99 L576.55,104.07 L578.00,104.16 L579.46,104.24 L580.91,104.32 L582.37,104.40 L583.83,104.48 L585.28,104.56 L586.74,104.64 L588.19,104.72 L589.64,104.80 L591.10,104.88 L592.55,104.96 L594.01,105.04 L595.46,105.12 L596.92,105.20 L598.38,105.28 L599.83,105.36 L601.28,105.43 L602.74,105.51 L604.19,105.59 L605.65,105.67 L607.11,105.74 L608.56,105.82 L610.01,105.90 L611.47,105.97 L612.92,106.05 L614.38,106.13 L615.84,106.20 L617.29,106.28 L618.75,106.35 L620.20,106.43" fill="none" stroke="#333" stroke-width="0.8" stroke-dasharray="7.8 9.1 0.8 8.7" stroke-dashoffset="25.70"/>
<path d="M620.20,106.43 L620.20,106.43 L621.65,106.50 L623.11,106.58 L624.57,106.65 L626.02,106.73 L627.48,106.80 L628.93,106.88 L630.38,106.95 L631.84,107.02 L633.29,107.10 L634.75,107.17 L636.20,107.24 L637.66,107.32 L639.12,107.39 L640.57,107.46 L642.02,107.53 L643.48,107.61 L644.93,107.68 L646.39,107.75 L647.85,107.82 L649.30,107.89 L650.75,107.96 L652.21,108.03 L653.66,108.11 L655.12,108.18 L656.58,108.25 L658.03,108.32 L659.49,108.39 L660.94,108.46 L662.39,108.53 L663.85,108.59 L665.31,108.66 L666.76,108.73 L668.21,108.80 L669.67,108.87 L671.12,108.94 L672.58,109.01 L674.03,109.07 L675.49,109.14 L676.94,109.21 L678.40,109.28" fill="none" stroke="#333" stroke-width="0.8" stroke-dasharray="7.8 9.1 0.8 8.7" stroke-dashoffset="25.90"/>
<rect x="386.20" y="90.30" width="2.8" height="2.2" fill="#000"/>
<rect x="403.66" y="91.70" width="2.8" height="2.2" fill="#000"/>
<rect x="421.12" y="93.05" width="2.8" height="2.2" fill="#000"/>
<rect x="438.58" y="94.36" width="2.8" height="2.2" fill="#000"/>
<rect x="456.04" y="95.62" width="2.8" height="2.2" fill="#000"/>
<rect x="473.50" y="96.84" width="2.8" height="2.2" fill="#000"/>
<rect x="490.96" y="98.02" width="2.8" height="2.2" fill="#000"/>
<rect x="508.42" y="99.15" width="2.8" height="2.2" fill="#000"/>
<rect x="525.88" y="100.25" width="2.8" height="2.2" fill="#000"/>
<rect x="543.34" y="101.32" width="2.8" height="2.2" fill="#000"/>
<rect x="560.80" y="102.34" width="2.8" height="2.2" fill="#000"/>
<rect x="578.26" y="103.34" width="2.8" height="2.2" fill="#000"/>
<rect x="595.72" y="104.30" width="2.8" height="2.2" fill="#000"/>
<rect x="613.18" y="105.23" width="2.8" height="2.2" fill="#000"/>
<rect x="630.64" y="106.12" width="2.8" height="2.2" fill="#000"/>
<rect x="648.10" y="106.99" width="2.8" height="2.2" fill="#000"/>
<rect x="665.56" y="107.83" width="2.8" height="2.2" fill="#000"/>
<text transform="translate(352.10,151.00) scale(1.33,1) rotate(-90)" style="font-family:'Liberation Serif',serif;font-style:italic;font-size:9.3px;stroke:#000;stroke-width:0.12px" fill="#000">H/H<tspan font-size="5.8px" dy="2.0">r</tspan></text>
<text transform="translate(524.28,243.90) scale(1.354,1)" style="font-family:'Liberation Serif', serif;font-size:8.90px;font-style:italic;" fill="#000">x/h</text>
<text transform="translate(538.38,246.40) scale(1.408,1)" style="font-family:'Liberation Serif', serif;font-size:5.60px;font-style:italic;" fill="#000">r</text>
<text transform="translate(520.38,274.60) scale(1.234,1)" style="font-family:'Liberation Serif', serif;font-size:9.50px;font-style:italic;" fill="#000">x/L</text>
<text transform="translate(535.31,276.70) scale(1.300,1)" style="font-family:'Liberation Serif', serif;font-size:5.90px;font-style:italic;" fill="#000">90</text>
<text transform="translate(542.68,277.40) scale(1.793,1)" style="font-family:'Liberation Serif', serif;font-size:4.40px;font-style:italic;" fill="#000">r</text>
<rect x="387.80" y="1.20" width="117.80" height="56.50" fill="#fff" stroke="#cfcfcf" stroke-width="1"/>
<line x1="390.10" y1="6.45" x2="404.50" y2="6.45" stroke="#222" stroke-width="0.9"/>
<text transform="translate(407.70,7.90) scale(1.200,1)" style="font-family:'Liberation Serif',serif;font-size:5.6px" fill="#000"><tspan font-style="italic">ωd</tspan>=0.16; <tspan font-style="italic">C</tspan><tspan font-size="3.3px" dy="1.0">D</tspan><tspan dy="-1.0">=0.33; em. obs.</tspan></text>
<line x1="390.10" y1="14.45" x2="403.00" y2="14.45" stroke="#333" stroke-width="0.9" stroke-dasharray="4.1 4.5"/>
<text transform="translate(407.70,15.70) scale(1.200,1)" style="font-family:'Liberation Serif',serif;font-size:5.6px" fill="#000"><tspan font-style="italic">ωd</tspan>=0.04; <tspan font-style="italic">C</tspan><tspan font-size="3.3px" dy="1.0">D</tspan><tspan dy="-1.0">=0.80; em. obs.</tspan></text>
<line x1="390.10" y1="22.45" x2="398.40" y2="22.45" stroke="#333" stroke-width="0.9"/>
<text transform="translate(407.70,23.50) scale(1.200,1)" style="font-family:'Liberation Serif',serif;font-size:5.6px" fill="#000"><tspan font-style="italic">ωd</tspan>=0.01; <tspan font-style="italic">C</tspan><tspan font-size="3.3px" dy="1.0">D</tspan><tspan dy="-1.0">=1.065; em. obs.</tspan></text>
<line x1="391.30" y1="30.10" x2="403.30" y2="30.10" stroke="#555" stroke-width="0.7"/>
<circle cx="391.30" cy="30.10" r="0.85" fill="#000"/>
<circle cx="397.40" cy="30.10" r="0.85" fill="#000"/>
<circle cx="403.30" cy="30.10" r="0.85" fill="#000"/>
<text transform="translate(407.70,31.30) scale(1.200,1)" style="font-family:'Liberation Serif',serif;font-size:5.6px" fill="#000"><tspan font-style="italic">ωd</tspan>=0.16; <tspan font-style="italic">C</tspan><tspan font-size="3.3px" dy="1.0">D</tspan><tspan dy="-1.0">=0.33; sub. obs. 50%</tspan></text>
<line x1="398.60" y1="37.90" x2="402.80" y2="37.90" stroke="#555" stroke-width="0.7"/>
<circle cx="391.30" cy="37.90" r="0.75" fill="#000"/>
<circle cx="397.40" cy="37.90" r="0.75" fill="#000"/>
<circle cx="403.30" cy="37.90" r="0.75" fill="#000"/>
<circle cx="393.60" cy="37.90" r="0.5" fill="#666"/>
<text transform="translate(407.70,39.10) scale(1.200,1)" style="font-family:'Liberation Serif',serif;font-size:5.6px" fill="#000"><tspan font-style="italic">ωd</tspan>=0.04; <tspan font-style="italic">C</tspan><tspan font-size="3.3px" dy="1.0">D</tspan><tspan dy="-1.0">=0.80; sub. obs. 50%</tspan></text>
<line x1="391.30" y1="45.50" x2="397.40" y2="45.50" stroke="#444" stroke-width="0.8"/>
<rect x="390.30" y="44.50" width="2" height="2" fill="#000"/>
<rect x="396.40" y="44.50" width="2" height="2" fill="#000"/>
<rect x="402.30" y="44.50" width="2" height="2" fill="#000"/>
<text transform="translate(407.70,46.90) scale(1.210,1)" style="font-family:'Liberation Serif',serif;font-size:5.6px" fill="#000"><tspan font-style="italic">ωd</tspan>=0.01; <tspan font-style="italic">C</tspan><tspan font-size="3.3px" dy="1.0">D</tspan><tspan dy="-1.0">=1.065; sub. obs. 50%</tspan></text>
<line x1="390.00" y1="53.30" x2="404.50" y2="53.30" stroke="#e83030" stroke-width="1"/>
<text transform="translate(407.70,54.70) scale(1.235,1)" style="font-family:'Liberation Serif',serif;font-size:5.6px" fill="#000">without obstacles</text>
<text transform="translate(114.09,292.40) scale(1.268,1)" style="font-family:'Liberation Sans', sans-serif;font-size:9.00px;font-weight:bold;" fill="#111">(a)</text>
<text transform="translate(131.80,292.50) scale(1.239,1)" style="font-family:'Liberation Serif', serif;font-size:9.80px;" fill="#111" class="gp">Horizontal bottom.</text>
<text transform="translate(420.29,292.40) scale(1.256,1)" style="font-family:'Liberation Sans', sans-serif;font-size:9.00px;font-weight:bold;" fill="#111">(b)</text>
<text transform="translate(438.29,292.50) scale(1.263,1)" style="font-family:'Liberation Serif', serif;font-size:9.80px;" fill="#111" class="gp">Bottom with slope equal to 0.001.</text>
</svg>
</body></html>
